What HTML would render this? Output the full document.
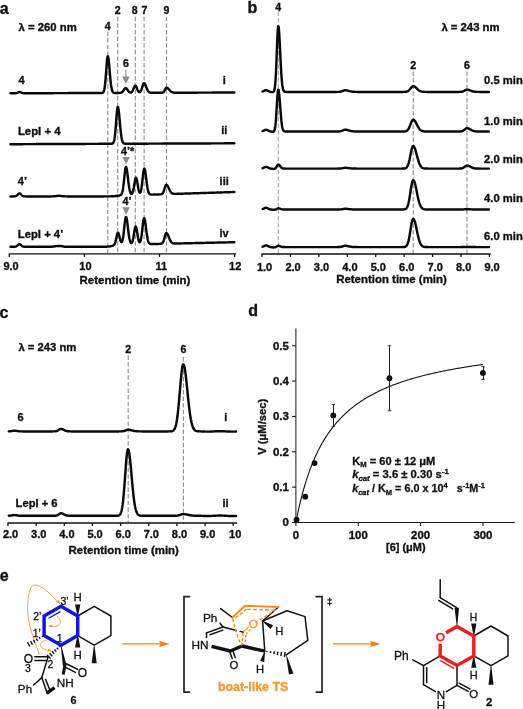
<!DOCTYPE html>
<html><head><meta charset="utf-8"><title>Figure</title>
<style>html,body{margin:0;padding:0;background:#fff}body{width:523px;height:709px;overflow:hidden}</style></head>
<body>
<svg width="523" height="709" viewBox="0 0 523 709" style="display:block;font-family:'Liberation Sans', Arial, Helvetica, sans-serif">
<rect width="523" height="709" fill="#fff"/>
<text x="-0.20" y="13.53" font-size="16" font-weight="bold" text-anchor="start" fill="#111"  stroke="#111" stroke-width="0.35">a</text>
<text x="247.40" y="12.93" font-size="16" font-weight="bold" text-anchor="start" fill="#111"  stroke="#111" stroke-width="0.35">b</text>
<text x="-0.40" y="317.63" font-size="16" font-weight="bold" text-anchor="start" fill="#111"  stroke="#111" stroke-width="0.35">c</text>
<text x="248.20" y="316.33" font-size="16" font-weight="bold" text-anchor="start" fill="#111"  stroke="#111" stroke-width="0.35">d</text>
<text x="-0.30" y="580.93" font-size="16" font-weight="bold" text-anchor="start" fill="#111"  stroke="#111" stroke-width="0.35">e</text>
<line x1="107.80" y1="31.50" x2="107.80" y2="253.90" stroke="#909090" stroke-width="1.15" stroke-dasharray="4.4 2.2"/>
<line x1="117.70" y1="16.80" x2="117.70" y2="253.90" stroke="#909090" stroke-width="1.15" stroke-dasharray="4.4 2.2"/>
<line x1="135.30" y1="16.80" x2="135.30" y2="253.90" stroke="#909090" stroke-width="1.15" stroke-dasharray="4.4 2.2"/>
<line x1="144.10" y1="16.80" x2="144.10" y2="253.90" stroke="#909090" stroke-width="1.15" stroke-dasharray="4.4 2.2"/>
<line x1="166.50" y1="16.80" x2="166.50" y2="253.90" stroke="#909090" stroke-width="1.15" stroke-dasharray="4.4 2.2"/>
<line x1="8.80" y1="253.90" x2="236.00" y2="253.90" stroke="#111" stroke-width="1.4" />
<line x1="9.30" y1="253.90" x2="9.30" y2="256.90" stroke="#111" stroke-width="1.3" />
<line x1="84.40" y1="253.90" x2="84.40" y2="256.90" stroke="#111" stroke-width="1.3" />
<line x1="159.50" y1="253.90" x2="159.50" y2="256.90" stroke="#111" stroke-width="1.3" />
<line x1="234.60" y1="253.90" x2="234.60" y2="256.90" stroke="#111" stroke-width="1.3" />
<text x="11.10" y="269.54" font-size="11.0" font-weight="bold" text-anchor="middle" fill="#111"  stroke="#111" stroke-width="0.35">9.0</text>
<text x="85.40" y="270.04" font-size="11.0" font-weight="bold" text-anchor="middle" fill="#111"  stroke="#111" stroke-width="0.35">10</text>
<text x="161.20" y="270.04" font-size="11.0" font-weight="bold" text-anchor="middle" fill="#111"  stroke="#111" stroke-width="0.35">11</text>
<text x="235.20" y="270.04" font-size="11.0" font-weight="bold" text-anchor="middle" fill="#111"  stroke="#111" stroke-width="0.35">12</text>
<text x="135.00" y="283.78" font-size="11.4" font-weight="bold" text-anchor="middle" fill="#111" textLength="110.8" lengthAdjust="spacingAndGlyphs"  stroke="#111" stroke-width="0.35">Retention time (min)</text>
<text x="117.70" y="14.29" font-size="10.6" font-weight="bold" text-anchor="middle" fill="#111"  stroke="#111" stroke-width="0.35">2</text>
<text x="134.80" y="14.29" font-size="10.6" font-weight="bold" text-anchor="middle" fill="#111"  stroke="#111" stroke-width="0.35">8</text>
<text x="144.40" y="14.29" font-size="10.6" font-weight="bold" text-anchor="middle" fill="#111"  stroke="#111" stroke-width="0.35">7</text>
<text x="166.50" y="14.29" font-size="10.6" font-weight="bold" text-anchor="middle" fill="#111"  stroke="#111" stroke-width="0.35">9</text>
<text x="107.80" y="29.59" font-size="10.6" font-weight="bold" text-anchor="middle" fill="#111"  stroke="#111" stroke-width="0.35">4</text>
<text x="125.90" y="66.99" font-size="10.6" font-weight="bold" text-anchor="middle" fill="#111"  stroke="#111" stroke-width="0.35">6</text>
<text x="127.70" y="155.27" font-size="10.8" font-weight="bold" text-anchor="middle" fill="#111"  stroke="#111" stroke-width="0.35">4’*</text>
<text x="127.00" y="204.77" font-size="10.8" font-weight="bold" text-anchor="middle" fill="#111"  stroke="#111" stroke-width="0.35">4’</text>
<line x1="125.90" y1="69.50" x2="125.90" y2="78.00" stroke="#8c8c8c" stroke-width="1.1" />
<polygon points="122.1,76.4 129.7,76.4 125.9,83.9" fill="#8c8c8c"/>
<polygon points="122.4,157.0 129.8,157.0 126.1,164.4" fill="#8c8c8c"/>
<polygon points="122.4,207.3 129.8,207.3 126.1,214.8" fill="#8c8c8c"/>
<text x="18.60" y="30.84" font-size="11" font-weight="bold" text-anchor="start" fill="#111" textLength="58.2" lengthAdjust="spacingAndGlyphs"  stroke="#111" stroke-width="0.35">λ = 260 nm</text>
<text x="18.50" y="84.24" font-size="11" font-weight="bold" text-anchor="start" fill="#111"  stroke="#111" stroke-width="0.35">4</text>
<text x="17.90" y="134.84" font-size="11" font-weight="bold" text-anchor="start" fill="#111" textLength="42.6" lengthAdjust="spacingAndGlyphs"  stroke="#111" stroke-width="0.35">LepI + 4</text>
<text x="17.80" y="185.34" font-size="11" font-weight="bold" text-anchor="start" fill="#111"  stroke="#111" stroke-width="0.35">4’</text>
<text x="17.80" y="237.54" font-size="11" font-weight="bold" text-anchor="start" fill="#111" textLength="45.5" lengthAdjust="spacingAndGlyphs"  stroke="#111" stroke-width="0.35">LepI + 4’</text>
<text x="224.40" y="83.84" font-size="11" font-weight="bold" text-anchor="middle" fill="#111"  stroke="#111" stroke-width="0.35">i</text>
<text x="224.30" y="133.84" font-size="11" font-weight="bold" text-anchor="middle" fill="#111"  stroke="#111" stroke-width="0.35">ii</text>
<text x="224.20" y="185.34" font-size="11" font-weight="bold" text-anchor="middle" fill="#111"  stroke="#111" stroke-width="0.35">iii</text>
<text x="224.10" y="237.44" font-size="11" font-weight="bold" text-anchor="middle" fill="#111"  stroke="#111" stroke-width="0.35">iv</text>
<path d="M10.50,93.30 L10.85,93.29 L11.20,93.29 L11.55,93.29 L11.90,93.29 L12.25,93.29 L12.60,93.29 L12.95,93.29 L13.30,93.29 L13.65,93.28 L14.00,93.28 L14.35,93.28 L14.70,93.27 L15.05,93.26 L15.40,93.24 L15.75,93.21 L16.10,93.17 L16.45,93.10 L16.80,93.01 L17.15,92.90 L17.50,92.76 L17.85,92.61 L18.21,92.45 L18.56,92.30 L18.91,92.17 L19.26,92.09 L19.61,92.06 L19.96,92.09 L20.31,92.17 L20.66,92.30 L21.01,92.44 L21.36,92.60 L21.71,92.75 L22.06,92.89 L22.41,93.00 L22.76,93.08 L23.11,93.14 L23.46,93.19 L23.81,93.21 L24.16,93.23 L24.51,93.24 L24.86,93.24 L25.21,93.24 L25.56,93.24 L25.91,93.24 L26.26,93.24 L26.61,93.24 L26.96,93.24 L27.31,93.24 L27.66,93.24 L28.01,93.23 L28.36,93.23 L28.71,93.23 L29.06,93.23 L29.41,93.23 L29.76,93.23 L30.11,93.23 L30.46,93.23 L30.81,93.23 L31.16,93.22 L31.51,93.22 L31.86,93.22 L32.21,93.22 L32.56,93.22 L32.92,93.22 L33.27,93.22 L33.62,93.22 L33.97,93.21 L34.32,93.21 L34.67,93.21 L35.02,93.21 L35.37,93.21 L35.72,93.21 L36.07,93.21 L36.42,93.21 L36.77,93.20 L37.12,93.20 L37.47,93.20 L37.82,93.20 L38.17,93.20 L38.52,93.20 L38.87,93.20 L39.22,93.20 L39.57,93.19 L39.92,93.19 L40.27,93.19 L40.62,93.19 L40.97,93.19 L41.32,93.19 L41.67,93.19 L42.02,93.19 L42.37,93.18 L42.72,93.18 L43.07,93.18 L43.42,93.18 L43.77,93.18 L44.12,93.18 L44.47,93.18 L44.82,93.18 L45.17,93.18 L45.52,93.17 L45.87,93.17 L46.22,93.17 L46.57,93.17 L46.92,93.17 L47.27,93.17 L47.62,93.17 L47.98,93.17 L48.33,93.16 L48.68,93.16 L49.03,93.16 L49.38,93.16 L49.73,93.16 L50.08,93.16 L50.43,93.16 L50.78,93.16 L51.13,93.15 L51.48,93.15 L51.83,93.15 L52.18,93.15 L52.53,93.15 L52.88,93.15 L53.23,93.15 L53.58,93.15 L53.93,93.14 L54.28,93.14 L54.63,93.14 L54.98,93.14 L55.33,93.14 L55.68,93.14 L56.03,93.14 L56.38,93.14 L56.73,93.14 L57.08,93.13 L57.43,93.13 L57.78,93.13 L58.13,93.13 L58.48,93.13 L58.83,93.13 L59.18,93.13 L59.53,93.13 L59.88,93.12 L60.23,93.12 L60.58,93.12 L60.93,93.12 L61.28,93.12 L61.63,93.12 L61.98,93.12 L62.33,93.12 L62.68,93.11 L63.04,93.11 L63.39,93.11 L63.74,93.11 L64.09,93.11 L64.44,93.11 L64.79,93.11 L65.14,93.11 L65.49,93.10 L65.84,93.10 L66.19,93.10 L66.54,93.10 L66.89,93.10 L67.24,93.10 L67.59,93.10 L67.94,93.10 L68.29,93.09 L68.64,93.09 L68.99,93.09 L69.34,93.09 L69.69,93.09 L70.04,93.09 L70.39,93.09 L70.74,93.09 L71.09,93.09 L71.44,93.08 L71.79,93.08 L72.14,93.08 L72.49,93.08 L72.84,93.08 L73.19,93.08 L73.54,93.08 L73.89,93.08 L74.24,93.07 L74.59,93.07 L74.94,93.07 L75.29,93.07 L75.64,93.07 L75.99,93.07 L76.34,93.07 L76.69,93.07 L77.04,93.06 L77.39,93.06 L77.75,93.06 L78.10,93.06 L78.45,93.06 L78.80,93.06 L79.15,93.06 L79.50,93.06 L79.85,93.05 L80.20,93.05 L80.55,93.05 L80.90,93.05 L81.25,93.05 L81.60,93.05 L81.95,93.05 L82.30,93.05 L82.65,93.04 L83.00,93.04 L83.35,93.04 L83.70,93.04 L84.05,93.04 L84.40,93.04 L84.75,93.04 L85.10,93.04 L85.45,93.04 L85.80,93.03 L86.15,93.03 L86.50,93.03 L86.85,93.03 L87.20,93.03 L87.55,93.03 L87.90,93.03 L88.25,93.03 L88.60,93.02 L88.95,93.02 L89.30,93.02 L89.65,93.02 L90.00,93.02 L90.35,93.02 L90.70,93.02 L91.05,93.02 L91.40,93.01 L91.75,93.01 L92.10,93.01 L92.45,93.01 L92.81,93.01 L93.16,93.01 L93.51,93.01 L93.86,93.01 L94.21,93.00 L94.56,93.00 L94.91,93.00 L95.26,93.00 L95.61,93.00 L95.96,93.00 L96.31,93.00 L96.66,93.00 L97.01,92.99 L97.36,92.99 L97.71,92.99 L98.06,92.99 L98.41,92.99 L98.76,92.99 L99.11,92.99 L99.46,92.99 L99.81,92.99 L100.16,92.98 L100.51,92.98 L100.86,92.98 L101.21,92.97 L101.56,92.96 L101.91,92.94 L102.26,92.88 L102.61,92.78 L102.96,92.59 L103.31,92.25 L103.66,91.67 L104.01,90.74 L104.36,89.31 L104.71,87.25 L105.06,84.44 L105.41,80.87 L105.76,76.59 L106.11,71.84 L106.46,66.99 L106.81,62.52 L107.16,58.95 L107.52,56.74 L107.87,56.18 L108.22,57.08 L108.57,59.21 L108.92,62.34 L109.27,66.16 L109.62,70.34 L109.97,74.55 L110.32,78.51 L110.67,82.02 L111.02,84.97 L111.37,87.33 L111.72,89.13 L112.07,90.45 L112.42,91.36 L112.77,91.98 L113.12,92.37 L113.47,92.62 L113.82,92.76 L114.17,92.84 L114.52,92.89 L114.87,92.91 L115.22,92.92 L115.57,92.93 L115.92,92.93 L116.27,92.93 L116.62,92.93 L116.97,92.93 L117.32,92.92 L117.67,92.92 L118.02,92.92 L118.37,92.92 L118.72,92.91 L119.07,92.91 L119.42,92.90 L119.77,92.88 L120.12,92.85 L120.47,92.80 L120.82,92.73 L121.17,92.63 L121.52,92.48 L121.87,92.28 L122.22,92.01 L122.58,91.66 L122.93,91.25 L123.28,90.78 L123.63,90.26 L123.98,89.72 L124.33,89.20 L124.68,88.75 L125.03,88.39 L125.38,88.17 L125.73,88.10 L126.08,88.19 L126.43,88.43 L126.78,88.80 L127.13,89.27 L127.48,89.79 L127.83,90.32 L128.18,90.84 L128.53,91.30 L128.88,91.69 L129.23,92.02 L129.58,92.26 L129.93,92.43 L130.28,92.52 L130.63,92.55 L130.98,92.49 L131.33,92.34 L131.68,92.09 L132.03,91.72 L132.38,91.21 L132.73,90.57 L133.08,89.79 L133.43,88.93 L133.78,88.03 L134.13,87.18 L134.48,86.45 L134.83,85.93 L135.18,85.68 L135.53,85.73 L135.88,86.07 L136.23,86.67 L136.58,87.44 L136.93,88.32 L137.28,89.21 L137.64,90.04 L137.99,90.75 L138.34,91.33 L138.69,91.75 L139.04,92.02 L139.39,92.13 L139.74,92.09 L140.09,91.90 L140.44,91.55 L140.79,91.02 L141.14,90.32 L141.49,89.45 L141.84,88.43 L142.19,87.32 L142.54,86.18 L142.89,85.10 L143.24,84.18 L143.59,83.52 L143.94,83.17 L144.29,83.17 L144.64,83.43 L144.99,83.92 L145.34,84.60 L145.69,85.43 L146.04,86.35 L146.39,87.30 L146.74,88.23 L147.09,89.10 L147.44,89.89 L147.79,90.57 L148.14,91.13 L148.49,91.59 L148.84,91.94 L149.19,92.21 L149.54,92.41 L149.89,92.55 L150.24,92.64 L150.59,92.70 L150.94,92.74 L151.29,92.77 L151.64,92.78 L151.99,92.79 L152.35,92.80 L152.70,92.80 L153.05,92.80 L153.40,92.80 L153.75,92.80 L154.10,92.80 L154.45,92.80 L154.80,92.79 L155.15,92.79 L155.50,92.79 L155.85,92.79 L156.20,92.79 L156.55,92.79 L156.90,92.79 L157.25,92.79 L157.60,92.78 L157.95,92.78 L158.30,92.78 L158.65,92.78 L159.00,92.78 L159.35,92.78 L159.70,92.78 L160.05,92.78 L160.40,92.77 L160.75,92.77 L161.10,92.76 L161.45,92.75 L161.80,92.73 L162.15,92.69 L162.50,92.62 L162.85,92.51 L163.20,92.32 L163.55,92.04 L163.90,91.65 L164.25,91.13 L164.60,90.51 L164.95,89.82 L165.30,89.12 L165.65,88.49 L166.00,88.02 L166.35,87.78 L166.70,87.77 L167.05,87.86 L167.41,88.02 L167.76,88.26 L168.11,88.56 L168.46,88.90 L168.81,89.27 L169.16,89.66 L169.51,90.05 L169.86,90.43 L170.21,90.79 L170.56,91.12 L170.91,91.42 L171.26,91.68 L171.61,91.90 L171.96,92.09 L172.31,92.24 L172.66,92.36 L173.01,92.46 L173.36,92.53 L173.71,92.59 L174.06,92.63 L174.41,92.66 L174.76,92.68 L175.11,92.69 L175.46,92.70 L175.81,92.71 L176.16,92.71 L176.51,92.71 L176.86,92.71 L177.21,92.71 L177.56,92.71 L177.91,92.71 L178.26,92.71 L178.61,92.71 L178.96,92.71 L179.31,92.71 L179.66,92.71 L180.01,92.71 L180.36,92.70 L180.71,92.70 L181.06,92.70 L181.41,92.70 L181.76,92.70 L182.12,92.70 L182.47,92.70 L182.82,92.70 L183.17,92.70 L183.52,92.69 L183.87,92.69 L184.22,92.69 L184.57,92.69 L184.92,92.69 L185.27,92.69 L185.62,92.69 L185.97,92.69 L186.32,92.68 L186.67,92.68 L187.02,92.68 L187.37,92.68 L187.72,92.68 L188.07,92.68 L188.42,92.68 L188.77,92.68 L189.12,92.67 L189.47,92.67 L189.82,92.67 L190.17,92.67 L190.52,92.67 L190.87,92.67 L191.22,92.67 L191.57,92.67 L191.92,92.66 L192.27,92.66 L192.62,92.66 L192.97,92.66 L193.32,92.66 L193.67,92.66 L194.02,92.66 L194.37,92.66 L194.72,92.66 L195.07,92.65 L195.42,92.65 L195.77,92.65 L196.12,92.65 L196.47,92.65 L196.82,92.65 L197.18,92.65 L197.53,92.65 L197.88,92.64 L198.23,92.64 L198.58,92.64 L198.93,92.64 L199.28,92.64 L199.63,92.64 L199.98,92.64 L200.33,92.64 L200.68,92.63 L201.03,92.63 L201.38,92.63 L201.73,92.63 L202.08,92.63 L202.43,92.63 L202.78,92.63 L203.13,92.63 L203.48,92.62 L203.83,92.62 L204.18,92.62 L204.53,92.62 L204.88,92.62 L205.23,92.62 L205.58,92.62 L205.93,92.62 L206.28,92.61 L206.63,92.61 L206.98,92.61 L207.33,92.61 L207.68,92.61 L208.03,92.61 L208.38,92.61 L208.73,92.61 L209.08,92.61 L209.43,92.60 L209.78,92.60 L210.13,92.60 L210.48,92.60 L210.83,92.60 L211.18,92.60 L211.53,92.60 L211.88,92.60 L212.24,92.59 L212.59,92.59 L212.94,92.59 L213.29,92.59 L213.64,92.59 L213.99,92.59 L214.34,92.59 L214.69,92.59 L215.04,92.58 L215.39,92.58 L215.74,92.58 L216.09,92.58 L216.44,92.58 L216.79,92.58 L217.14,92.58 L217.49,92.58 L217.84,92.57 L218.19,92.57 L218.54,92.57 L218.89,92.57 L219.24,92.57 L219.59,92.57 L219.94,92.57 L220.29,92.57 L220.64,92.56 L220.99,92.56 L221.34,92.56 L221.69,92.56 L222.04,92.56 L222.39,92.56 L222.74,92.56 L223.09,92.56 L223.44,92.56 L223.79,92.55 L224.14,92.55 L224.49,92.55 L224.84,92.55 L225.19,92.55 L225.54,92.55 L225.89,92.55 L226.24,92.55 L226.59,92.54 L226.95,92.54 L227.30,92.54 L227.65,92.54 L228.00,92.54 L228.35,92.54 L228.70,92.54 L229.05,92.54 L229.40,92.53 L229.75,92.53 L230.10,92.53 L230.45,92.53 L230.80,92.53 L231.15,92.53 L231.50,92.53 L231.85,92.53 L232.20,92.52 L232.55,92.52 L232.90,92.52 L233.25,92.52 L233.60,92.52 L233.95,92.52 L234.30,92.52" fill="none" stroke="#0a0a0a" stroke-width="2.45" stroke-linejoin="round" stroke-linecap="round"/>
<path d="M10.50,144.20 L10.85,144.19 L11.20,144.19 L11.55,144.19 L11.90,144.19 L12.25,144.19 L12.60,144.19 L12.95,144.19 L13.30,144.18 L13.65,144.18 L14.00,144.18 L14.35,144.18 L14.70,144.18 L15.05,144.18 L15.40,144.18 L15.75,144.17 L16.10,144.17 L16.45,144.17 L16.80,144.17 L17.15,144.17 L17.50,144.17 L17.85,144.17 L18.21,144.16 L18.56,144.16 L18.91,144.16 L19.26,144.16 L19.61,144.16 L19.96,144.16 L20.31,144.16 L20.66,144.15 L21.01,144.15 L21.36,144.15 L21.71,144.15 L22.06,144.15 L22.41,144.15 L22.76,144.15 L23.11,144.15 L23.46,144.14 L23.81,144.14 L24.16,144.14 L24.51,144.14 L24.86,144.14 L25.21,144.14 L25.56,144.14 L25.91,144.13 L26.26,144.13 L26.61,144.13 L26.96,144.13 L27.31,144.13 L27.66,144.13 L28.01,144.13 L28.36,144.12 L28.71,144.12 L29.06,144.12 L29.41,144.12 L29.76,144.12 L30.11,144.12 L30.46,144.12 L30.81,144.11 L31.16,144.11 L31.51,144.11 L31.86,144.11 L32.21,144.11 L32.56,144.11 L32.92,144.11 L33.27,144.10 L33.62,144.10 L33.97,144.10 L34.32,144.10 L34.67,144.10 L35.02,144.10 L35.37,144.10 L35.72,144.09 L36.07,144.09 L36.42,144.09 L36.77,144.09 L37.12,144.09 L37.47,144.09 L37.82,144.09 L38.17,144.09 L38.52,144.08 L38.87,144.08 L39.22,144.08 L39.57,144.08 L39.92,144.08 L40.27,144.08 L40.62,144.08 L40.97,144.07 L41.32,144.07 L41.67,144.07 L42.02,144.07 L42.37,144.07 L42.72,144.07 L43.07,144.07 L43.42,144.06 L43.77,144.06 L44.12,144.06 L44.47,144.06 L44.82,144.06 L45.17,144.06 L45.52,144.06 L45.87,144.05 L46.22,144.05 L46.57,144.05 L46.92,144.05 L47.27,144.05 L47.62,144.05 L47.98,144.05 L48.33,144.04 L48.68,144.04 L49.03,144.04 L49.38,144.04 L49.73,144.04 L50.08,144.04 L50.43,144.04 L50.78,144.03 L51.13,144.03 L51.48,144.03 L51.83,144.03 L52.18,144.03 L52.53,144.03 L52.88,144.03 L53.23,144.03 L53.58,144.02 L53.93,144.02 L54.28,144.02 L54.63,144.02 L54.98,144.02 L55.33,144.02 L55.68,144.02 L56.03,144.01 L56.38,144.01 L56.73,144.01 L57.08,144.01 L57.43,144.01 L57.78,144.01 L58.13,144.01 L58.48,144.00 L58.83,144.00 L59.18,144.00 L59.53,144.00 L59.88,144.00 L60.23,144.00 L60.58,144.00 L60.93,143.99 L61.28,143.99 L61.63,143.99 L61.98,143.99 L62.33,143.99 L62.68,143.99 L63.04,143.99 L63.39,143.98 L63.74,143.98 L64.09,143.98 L64.44,143.98 L64.79,143.98 L65.14,143.98 L65.49,143.98 L65.84,143.97 L66.19,143.97 L66.54,143.97 L66.89,143.97 L67.24,143.97 L67.59,143.97 L67.94,143.97 L68.29,143.97 L68.64,143.96 L68.99,143.96 L69.34,143.96 L69.69,143.96 L70.04,143.96 L70.39,143.96 L70.74,143.96 L71.09,143.95 L71.44,143.95 L71.79,143.95 L72.14,143.95 L72.49,143.95 L72.84,143.95 L73.19,143.95 L73.54,143.94 L73.89,143.94 L74.24,143.94 L74.59,143.94 L74.94,143.94 L75.29,143.94 L75.64,143.94 L75.99,143.93 L76.34,143.93 L76.69,143.93 L77.04,143.93 L77.39,143.93 L77.75,143.93 L78.10,143.93 L78.45,143.92 L78.80,143.92 L79.15,143.92 L79.50,143.92 L79.85,143.92 L80.20,143.92 L80.55,143.92 L80.90,143.91 L81.25,143.91 L81.60,143.91 L81.95,143.91 L82.30,143.91 L82.65,143.91 L83.00,143.91 L83.35,143.91 L83.70,143.90 L84.05,143.90 L84.40,143.90 L84.75,143.90 L85.10,143.90 L85.45,143.90 L85.80,143.90 L86.15,143.89 L86.50,143.89 L86.85,143.89 L87.20,143.89 L87.55,143.89 L87.90,143.89 L88.25,143.89 L88.60,143.88 L88.95,143.88 L89.30,143.88 L89.65,143.88 L90.00,143.88 L90.35,143.88 L90.70,143.88 L91.05,143.87 L91.40,143.87 L91.75,143.87 L92.10,143.87 L92.45,143.87 L92.81,143.87 L93.16,143.87 L93.51,143.86 L93.86,143.86 L94.21,143.86 L94.56,143.86 L94.91,143.86 L95.26,143.86 L95.61,143.86 L95.96,143.85 L96.31,143.85 L96.66,143.85 L97.01,143.85 L97.36,143.85 L97.71,143.85 L98.06,143.85 L98.41,143.85 L98.76,143.84 L99.11,143.84 L99.46,143.84 L99.81,143.84 L100.16,143.84 L100.51,143.84 L100.86,143.84 L101.21,143.83 L101.56,143.83 L101.91,143.83 L102.26,143.83 L102.61,143.83 L102.96,143.83 L103.31,143.83 L103.66,143.82 L104.01,143.82 L104.36,143.82 L104.71,143.82 L105.06,143.82 L105.41,143.82 L105.76,143.82 L106.11,143.81 L106.46,143.81 L106.81,143.81 L107.16,143.81 L107.52,143.81 L107.87,143.81 L108.22,143.81 L108.57,143.80 L108.92,143.80 L109.27,143.80 L109.62,143.80 L109.97,143.80 L110.32,143.80 L110.67,143.79 L111.02,143.79 L111.37,143.78 L111.72,143.75 L112.07,143.70 L112.42,143.61 L112.77,143.43 L113.12,143.13 L113.47,142.61 L113.82,141.77 L114.17,140.50 L114.52,138.67 L114.87,136.15 L115.22,132.91 L115.57,128.97 L115.92,124.49 L116.27,119.76 L116.62,115.18 L116.97,111.24 L117.32,108.39 L117.67,106.98 L118.02,107.10 L118.37,108.38 L118.72,110.66 L119.07,113.75 L119.42,117.39 L119.77,121.30 L120.12,125.22 L120.47,128.93 L120.82,132.26 L121.17,135.12 L121.52,137.46 L121.87,139.31 L122.22,140.71 L122.58,141.73 L122.93,142.45 L123.28,142.94 L123.63,143.26 L123.98,143.46 L124.33,143.58 L124.68,143.65 L125.03,143.69 L125.38,143.71 L125.73,143.72 L126.08,143.73 L126.43,143.73 L126.78,143.73 L127.13,143.73 L127.48,143.73 L127.83,143.73 L128.18,143.73 L128.53,143.73 L128.88,143.72 L129.23,143.72 L129.58,143.72 L129.93,143.72 L130.28,143.72 L130.63,143.72 L130.98,143.72 L131.33,143.71 L131.68,143.71 L132.03,143.71 L132.38,143.71 L132.73,143.71 L133.08,143.71 L133.43,143.71 L133.78,143.70 L134.13,143.70 L134.48,143.70 L134.83,143.70 L135.18,143.70 L135.53,143.70 L135.88,143.70 L136.23,143.69 L136.58,143.69 L136.93,143.69 L137.28,143.69 L137.64,143.69 L137.99,143.69 L138.34,143.69 L138.69,143.68 L139.04,143.68 L139.39,143.68 L139.74,143.68 L140.09,143.68 L140.44,143.68 L140.79,143.68 L141.14,143.67 L141.49,143.67 L141.84,143.67 L142.19,143.67 L142.54,143.67 L142.89,143.67 L143.24,143.67 L143.59,143.67 L143.94,143.66 L144.29,143.66 L144.64,143.66 L144.99,143.66 L145.34,143.66 L145.69,143.66 L146.04,143.66 L146.39,143.65 L146.74,143.65 L147.09,143.65 L147.44,143.65 L147.79,143.65 L148.14,143.65 L148.49,143.65 L148.84,143.64 L149.19,143.64 L149.54,143.64 L149.89,143.64 L150.24,143.64 L150.59,143.64 L150.94,143.64 L151.29,143.63 L151.64,143.63 L151.99,143.63 L152.35,143.63 L152.70,143.63 L153.05,143.63 L153.40,143.63 L153.75,143.62 L154.10,143.62 L154.45,143.62 L154.80,143.62 L155.15,143.62 L155.50,143.62 L155.85,143.62 L156.20,143.62 L156.55,143.61 L156.90,143.61 L157.25,143.61 L157.60,143.61 L157.95,143.61 L158.30,143.61 L158.65,143.61 L159.00,143.60 L159.35,143.60 L159.70,143.60 L160.05,143.60 L160.40,143.60 L160.75,143.60 L161.10,143.60 L161.45,143.59 L161.80,143.59 L162.15,143.59 L162.50,143.59 L162.85,143.59 L163.20,143.59 L163.55,143.59 L163.90,143.58 L164.25,143.58 L164.60,143.58 L164.95,143.58 L165.30,143.58 L165.65,143.58 L166.00,143.58 L166.35,143.57 L166.70,143.57 L167.05,143.57 L167.41,143.57 L167.76,143.57 L168.11,143.57 L168.46,143.57 L168.81,143.56 L169.16,143.56 L169.51,143.56 L169.86,143.56 L170.21,143.56 L170.56,143.56 L170.91,143.56 L171.26,143.56 L171.61,143.55 L171.96,143.55 L172.31,143.55 L172.66,143.55 L173.01,143.55 L173.36,143.55 L173.71,143.55 L174.06,143.54 L174.41,143.54 L174.76,143.54 L175.11,143.54 L175.46,143.54 L175.81,143.54 L176.16,143.54 L176.51,143.53 L176.86,143.53 L177.21,143.53 L177.56,143.53 L177.91,143.53 L178.26,143.53 L178.61,143.53 L178.96,143.52 L179.31,143.52 L179.66,143.52 L180.01,143.52 L180.36,143.52 L180.71,143.52 L181.06,143.52 L181.41,143.51 L181.76,143.51 L182.12,143.51 L182.47,143.51 L182.82,143.51 L183.17,143.51 L183.52,143.51 L183.87,143.50 L184.22,143.50 L184.57,143.50 L184.92,143.50 L185.27,143.50 L185.62,143.50 L185.97,143.50 L186.32,143.50 L186.67,143.49 L187.02,143.49 L187.37,143.49 L187.72,143.49 L188.07,143.49 L188.42,143.49 L188.77,143.49 L189.12,143.48 L189.47,143.48 L189.82,143.48 L190.17,143.48 L190.52,143.48 L190.87,143.48 L191.22,143.48 L191.57,143.47 L191.92,143.47 L192.27,143.47 L192.62,143.47 L192.97,143.47 L193.32,143.47 L193.67,143.47 L194.02,143.46 L194.37,143.46 L194.72,143.46 L195.07,143.46 L195.42,143.46 L195.77,143.46 L196.12,143.46 L196.47,143.45 L196.82,143.45 L197.18,143.45 L197.53,143.45 L197.88,143.45 L198.23,143.45 L198.58,143.45 L198.93,143.44 L199.28,143.44 L199.63,143.44 L199.98,143.44 L200.33,143.44 L200.68,143.44 L201.03,143.44 L201.38,143.44 L201.73,143.43 L202.08,143.43 L202.43,143.43 L202.78,143.43 L203.13,143.43 L203.48,143.43 L203.83,143.43 L204.18,143.42 L204.53,143.42 L204.88,143.42 L205.23,143.42 L205.58,143.42 L205.93,143.42 L206.28,143.42 L206.63,143.41 L206.98,143.41 L207.33,143.41 L207.68,143.41 L208.03,143.41 L208.38,143.41 L208.73,143.41 L209.08,143.40 L209.43,143.40 L209.78,143.40 L210.13,143.40 L210.48,143.40 L210.83,143.40 L211.18,143.40 L211.53,143.39 L211.88,143.39 L212.24,143.39 L212.59,143.39 L212.94,143.39 L213.29,143.39 L213.64,143.39 L213.99,143.38 L214.34,143.38 L214.69,143.38 L215.04,143.38 L215.39,143.38 L215.74,143.38 L216.09,143.38 L216.44,143.38 L216.79,143.37 L217.14,143.37 L217.49,143.37 L217.84,143.37 L218.19,143.37 L218.54,143.37 L218.89,143.37 L219.24,143.36 L219.59,143.36 L219.94,143.36 L220.29,143.36 L220.64,143.36 L220.99,143.36 L221.34,143.36 L221.69,143.35 L222.04,143.35 L222.39,143.35 L222.74,143.35 L223.09,143.35 L223.44,143.35 L223.79,143.35 L224.14,143.34 L224.49,143.34 L224.84,143.34 L225.19,143.34 L225.54,143.34 L225.89,143.34 L226.24,143.34 L226.59,143.33 L226.95,143.33 L227.30,143.33 L227.65,143.33 L228.00,143.33 L228.35,143.33 L228.70,143.33 L229.05,143.32 L229.40,143.32 L229.75,143.32 L230.10,143.32 L230.45,143.32 L230.80,143.32 L231.15,143.32 L231.50,143.32 L231.85,143.31 L232.20,143.31 L232.55,143.31 L232.90,143.31 L233.25,143.31 L233.60,143.31 L233.95,143.31 L234.30,143.30" fill="none" stroke="#0a0a0a" stroke-width="2.45" stroke-linejoin="round" stroke-linecap="round"/>
<path d="M10.50,196.40 L10.85,196.40 L11.20,196.40 L11.55,196.40 L11.90,196.40 L12.25,196.40 L12.60,196.40 L12.95,196.40 L13.30,196.40 L13.65,196.39 L14.00,196.38 L14.35,196.37 L14.70,196.34 L15.05,196.30 L15.40,196.24 L15.75,196.14 L16.10,195.99 L16.45,195.80 L16.80,195.55 L17.15,195.24 L17.50,194.89 L17.85,194.52 L18.21,194.16 L18.56,193.83 L18.91,193.58 L19.26,193.43 L19.61,193.41 L19.96,193.51 L20.31,193.72 L20.66,194.02 L21.01,194.37 L21.36,194.75 L21.71,195.11 L22.06,195.43 L22.41,195.71 L22.76,195.92 L23.11,196.08 L23.46,196.20 L23.81,196.28 L24.16,196.33 L24.51,196.36 L24.86,196.38 L25.21,196.39 L25.56,196.39 L25.91,196.40 L26.26,196.40 L26.61,196.40 L26.96,196.40 L27.31,196.40 L27.66,196.40 L28.01,196.40 L28.36,196.40 L28.71,196.40 L29.06,196.40 L29.41,196.40 L29.76,196.40 L30.11,196.40 L30.46,196.40 L30.81,196.40 L31.16,196.40 L31.51,196.40 L31.86,196.40 L32.21,196.40 L32.56,196.40 L32.92,196.40 L33.27,196.40 L33.62,196.40 L33.97,196.40 L34.32,196.40 L34.67,196.40 L35.02,196.40 L35.37,196.40 L35.72,196.40 L36.07,196.40 L36.42,196.40 L36.77,196.40 L37.12,196.40 L37.47,196.40 L37.82,196.40 L38.17,196.40 L38.52,196.40 L38.87,196.40 L39.22,196.40 L39.57,196.40 L39.92,196.40 L40.27,196.40 L40.62,196.40 L40.97,196.40 L41.32,196.40 L41.67,196.40 L42.02,196.40 L42.37,196.40 L42.72,196.40 L43.07,196.40 L43.42,196.40 L43.77,196.40 L44.12,196.40 L44.47,196.40 L44.82,196.40 L45.17,196.40 L45.52,196.40 L45.87,196.40 L46.22,196.40 L46.57,196.40 L46.92,196.40 L47.27,196.40 L47.62,196.40 L47.98,196.40 L48.33,196.40 L48.68,196.40 L49.03,196.40 L49.38,196.40 L49.73,196.40 L50.08,196.40 L50.43,196.40 L50.78,196.40 L51.13,196.40 L51.48,196.39 L51.83,196.39 L52.18,196.39 L52.53,196.38 L52.88,196.37 L53.23,196.36 L53.58,196.34 L53.93,196.32 L54.28,196.30 L54.63,196.27 L54.98,196.24 L55.33,196.20 L55.68,196.15 L56.03,196.10 L56.38,196.05 L56.73,196.00 L57.08,195.95 L57.43,195.91 L57.78,195.87 L58.13,195.84 L58.48,195.81 L58.83,195.80 L59.18,195.80 L59.53,195.81 L59.88,195.84 L60.23,195.87 L60.58,195.91 L60.93,195.96 L61.28,196.00 L61.63,196.06 L61.98,196.11 L62.33,196.15 L62.68,196.20 L63.04,196.24 L63.39,196.27 L63.74,196.30 L64.09,196.32 L64.44,196.34 L64.79,196.36 L65.14,196.37 L65.49,196.38 L65.84,196.39 L66.19,196.39 L66.54,196.39 L66.89,196.40 L67.24,196.40 L67.59,196.40 L67.94,196.40 L68.29,196.40 L68.64,196.40 L68.99,196.40 L69.34,196.40 L69.69,196.40 L70.04,196.40 L70.39,196.40 L70.74,196.40 L71.09,196.40 L71.44,196.40 L71.79,196.40 L72.14,196.40 L72.49,196.40 L72.84,196.40 L73.19,196.40 L73.54,196.40 L73.89,196.40 L74.24,196.40 L74.59,196.40 L74.94,196.40 L75.29,196.40 L75.64,196.40 L75.99,196.40 L76.34,196.40 L76.69,196.40 L77.04,196.40 L77.39,196.40 L77.75,196.40 L78.10,196.40 L78.45,196.40 L78.80,196.40 L79.15,196.40 L79.50,196.40 L79.85,196.40 L80.20,196.40 L80.55,196.40 L80.90,196.40 L81.25,196.40 L81.60,196.40 L81.95,196.40 L82.30,196.40 L82.65,196.40 L83.00,196.40 L83.35,196.40 L83.70,196.40 L84.05,196.40 L84.40,196.40 L84.75,196.40 L85.10,196.40 L85.45,196.40 L85.80,196.40 L86.15,196.40 L86.50,196.40 L86.85,196.40 L87.20,196.40 L87.55,196.40 L87.90,196.40 L88.25,196.40 L88.60,196.40 L88.95,196.40 L89.30,196.40 L89.65,196.40 L90.00,196.40 L90.35,196.40 L90.70,196.40 L91.05,196.40 L91.40,196.40 L91.75,196.40 L92.10,196.40 L92.45,196.40 L92.81,196.40 L93.16,196.40 L93.51,196.40 L93.86,196.40 L94.21,196.40 L94.56,196.40 L94.91,196.40 L95.26,196.40 L95.61,196.40 L95.96,196.40 L96.31,196.40 L96.66,196.40 L97.01,196.40 L97.36,196.40 L97.71,196.40 L98.06,196.40 L98.41,196.40 L98.76,196.40 L99.11,196.40 L99.46,196.40 L99.81,196.40 L100.16,196.40 L100.51,196.40 L100.86,196.40 L101.21,196.40 L101.56,196.40 L101.91,196.40 L102.26,196.40 L102.61,196.40 L102.96,196.40 L103.31,196.40 L103.66,196.40 L104.01,196.40 L104.36,196.40 L104.71,196.39 L105.06,196.39 L105.41,196.39 L105.76,196.39 L106.11,196.39 L106.46,196.39 L106.81,196.39 L107.16,196.39 L107.52,196.38 L107.87,196.38 L108.22,196.38 L108.57,196.37 L108.92,196.37 L109.27,196.37 L109.62,196.36 L109.97,196.36 L110.32,196.35 L110.67,196.34 L111.02,196.33 L111.37,196.32 L111.72,196.31 L112.07,196.30 L112.42,196.29 L112.77,196.27 L113.12,196.25 L113.47,196.23 L113.82,196.21 L114.17,196.18 L114.52,196.16 L114.87,196.13 L115.22,196.09 L115.57,196.06 L115.92,196.02 L116.27,195.97 L116.62,195.93 L116.97,195.88 L117.32,195.82 L117.67,195.77 L118.02,195.71 L118.37,195.65 L118.72,195.59 L119.07,195.53 L119.42,195.45 L119.77,195.37 L120.12,195.26 L120.47,195.12 L120.82,194.90 L121.17,194.58 L121.52,194.10 L121.87,193.38 L122.22,192.35 L122.58,190.93 L122.93,189.05 L123.28,186.69 L123.63,183.86 L123.98,180.66 L124.33,177.28 L124.68,173.97 L125.03,171.02 L125.38,168.73 L125.73,167.34 L126.08,167.02 L126.43,167.66 L126.78,169.15 L127.13,171.35 L127.48,174.06 L127.83,177.04 L128.18,180.09 L128.53,183.01 L128.88,185.65 L129.23,187.92 L129.58,189.78 L129.93,191.24 L130.28,192.33 L130.63,193.09 L130.98,193.57 L131.33,193.80 L131.68,193.80 L132.03,193.56 L132.38,193.06 L132.73,192.25 L133.08,191.11 L133.43,189.62 L133.78,187.81 L134.13,185.74 L134.48,183.56 L134.83,181.46 L135.18,179.66 L135.53,178.37 L135.88,177.74 L136.23,177.87 L136.58,178.73 L136.93,180.22 L137.28,182.14 L137.64,184.29 L137.99,186.43 L138.34,188.40 L138.69,190.07 L139.04,191.36 L139.39,192.23 L139.74,192.68 L140.09,192.70 L140.44,192.27 L140.79,191.36 L141.14,189.94 L141.49,187.99 L141.84,185.52 L142.19,182.62 L142.54,179.44 L142.89,176.21 L143.24,173.22 L143.59,170.78 L143.94,169.18 L144.29,168.60 L144.64,168.99 L144.99,170.18 L145.34,172.05 L145.69,174.43 L146.04,177.14 L146.39,179.97 L146.74,182.73 L147.09,185.28 L147.44,187.52 L147.79,189.41 L148.14,190.92 L148.49,192.08 L148.84,192.95 L149.19,193.56 L149.54,193.98 L149.89,194.26 L150.24,194.44 L150.59,194.53 L150.94,194.59 L151.29,194.62 L151.64,194.63 L151.99,194.63 L152.35,194.62 L152.70,194.61 L153.05,194.60 L153.40,194.59 L153.75,194.58 L154.10,194.57 L154.45,194.56 L154.80,194.55 L155.15,194.54 L155.50,194.53 L155.85,194.51 L156.20,194.50 L156.55,194.49 L156.90,194.48 L157.25,194.47 L157.60,194.46 L157.95,194.45 L158.30,194.44 L158.65,194.42 L159.00,194.41 L159.35,194.40 L159.70,194.39 L160.05,194.37 L160.40,194.35 L160.75,194.31 L161.10,194.26 L161.45,194.18 L161.80,194.04 L162.15,193.84 L162.50,193.53 L162.85,193.09 L163.20,192.49 L163.55,191.72 L163.90,190.78 L164.25,189.69 L164.60,188.52 L164.95,187.36 L165.30,186.30 L165.65,185.46 L166.00,184.93 L166.35,184.78 L166.70,184.89 L167.05,185.16 L167.41,185.59 L167.76,186.15 L168.11,186.81 L168.46,187.54 L168.81,188.30 L169.16,189.07 L169.51,189.82 L169.86,190.52 L170.21,191.15 L170.56,191.71 L170.91,192.20 L171.26,192.60 L171.61,192.94 L171.96,193.20 L172.31,193.41 L172.66,193.56 L173.01,193.67 L173.36,193.75 L173.71,193.81 L174.06,193.84 L174.41,193.86 L174.76,193.88 L175.11,193.88 L175.46,193.88 L175.81,193.87 L176.16,193.86 L176.51,193.85 L176.86,193.84 L177.21,193.83 L177.56,193.82 L177.91,193.81 L178.26,193.80 L178.61,193.79 L178.96,193.78 L179.31,193.77 L179.66,193.76 L180.01,193.75 L180.36,193.74 L180.71,193.72 L181.06,193.71 L181.41,193.70 L181.76,193.69 L182.12,193.68 L182.47,193.67 L182.82,193.66 L183.17,193.65 L183.52,193.64 L183.87,193.62 L184.22,193.61 L184.57,193.60 L184.92,193.59 L185.27,193.58 L185.62,193.57 L185.97,193.56 L186.32,193.55 L186.67,193.54 L187.02,193.52 L187.37,193.51 L187.72,193.50 L188.07,193.49 L188.42,193.48 L188.77,193.47 L189.12,193.46 L189.47,193.45 L189.82,193.44 L190.17,193.42 L190.52,193.41 L190.87,193.40 L191.22,193.39 L191.57,193.38 L191.92,193.37 L192.27,193.36 L192.62,193.35 L192.97,193.33 L193.32,193.32 L193.67,193.31 L194.02,193.30 L194.37,193.29 L194.72,193.28 L195.07,193.27 L195.42,193.26 L195.77,193.25 L196.12,193.23 L196.47,193.22 L196.82,193.21 L197.18,193.20 L197.53,193.19 L197.88,193.18 L198.23,193.17 L198.58,193.16 L198.93,193.15 L199.28,193.13 L199.63,193.12 L199.98,193.11 L200.33,193.10 L200.68,193.09 L201.03,193.08 L201.38,193.07 L201.73,193.06 L202.08,193.05 L202.43,193.03 L202.78,193.02 L203.13,193.01 L203.48,193.00 L203.83,192.99 L204.18,192.98 L204.53,192.97 L204.88,192.96 L205.23,192.95 L205.58,192.93 L205.93,192.92 L206.28,192.91 L206.63,192.90 L206.98,192.89 L207.33,192.88 L207.68,192.87 L208.03,192.86 L208.38,192.85 L208.73,192.83 L209.08,192.82 L209.43,192.81 L209.78,192.80 L210.13,192.79 L210.48,192.78 L210.83,192.77 L211.18,192.76 L211.53,192.75 L211.88,192.73 L212.24,192.72 L212.59,192.71 L212.94,192.70 L213.29,192.69 L213.64,192.68 L213.99,192.67 L214.34,192.66 L214.69,192.65 L215.04,192.63 L215.39,192.62 L215.74,192.61 L216.09,192.60 L216.44,192.59 L216.79,192.58 L217.14,192.57 L217.49,192.56 L217.84,192.55 L218.19,192.53 L218.54,192.52 L218.89,192.51 L219.24,192.50 L219.59,192.49 L219.94,192.48 L220.29,192.47 L220.64,192.46 L220.99,192.44 L221.34,192.43 L221.69,192.42 L222.04,192.41 L222.39,192.40 L222.74,192.39 L223.09,192.38 L223.44,192.37 L223.79,192.36 L224.14,192.34 L224.49,192.33 L224.84,192.32 L225.19,192.31 L225.54,192.30 L225.89,192.29 L226.24,192.28 L226.59,192.27 L226.95,192.26 L227.30,192.24 L227.65,192.23 L228.00,192.22 L228.35,192.21 L228.70,192.20 L229.05,192.19 L229.40,192.18 L229.75,192.17 L230.10,192.16 L230.45,192.14 L230.80,192.13 L231.15,192.12 L231.50,192.11 L231.85,192.10 L232.20,192.09 L232.55,192.08 L232.90,192.07 L233.25,192.06 L233.60,192.04 L233.95,192.03 L234.30,192.02" fill="none" stroke="#0a0a0a" stroke-width="2.45" stroke-linejoin="round" stroke-linecap="round"/>
<path d="M10.50,246.80 L10.85,246.80 L11.20,246.80 L11.55,246.80 L11.90,246.80 L12.25,246.80 L12.60,246.80 L12.95,246.80 L13.30,246.80 L13.65,246.79 L14.00,246.79 L14.35,246.77 L14.70,246.75 L15.05,246.72 L15.40,246.66 L15.75,246.57 L16.10,246.45 L16.45,246.28 L16.80,246.06 L17.15,245.80 L17.50,245.49 L17.85,245.17 L18.21,244.85 L18.56,244.57 L18.91,244.35 L19.26,244.23 L19.61,244.21 L19.96,244.29 L20.31,244.48 L20.66,244.74 L21.01,245.04 L21.36,245.37 L21.71,245.68 L22.06,245.96 L22.41,246.20 L22.76,246.39 L23.11,246.53 L23.46,246.63 L23.81,246.70 L24.16,246.74 L24.51,246.77 L24.86,246.78 L25.21,246.79 L25.56,246.80 L25.91,246.80 L26.26,246.80 L26.61,246.80 L26.96,246.80 L27.31,246.80 L27.66,246.80 L28.01,246.80 L28.36,246.80 L28.71,246.80 L29.06,246.80 L29.41,246.80 L29.76,246.80 L30.11,246.80 L30.46,246.80 L30.81,246.80 L31.16,246.80 L31.51,246.80 L31.86,246.80 L32.21,246.80 L32.56,246.80 L32.92,246.80 L33.27,246.80 L33.62,246.80 L33.97,246.80 L34.32,246.80 L34.67,246.80 L35.02,246.80 L35.37,246.80 L35.72,246.80 L36.07,246.80 L36.42,246.80 L36.77,246.80 L37.12,246.80 L37.47,246.80 L37.82,246.80 L38.17,246.80 L38.52,246.80 L38.87,246.80 L39.22,246.80 L39.57,246.80 L39.92,246.80 L40.27,246.80 L40.62,246.80 L40.97,246.80 L41.32,246.80 L41.67,246.80 L42.02,246.80 L42.37,246.80 L42.72,246.80 L43.07,246.80 L43.42,246.80 L43.77,246.80 L44.12,246.80 L44.47,246.80 L44.82,246.80 L45.17,246.80 L45.52,246.80 L45.87,246.80 L46.22,246.80 L46.57,246.80 L46.92,246.80 L47.27,246.80 L47.62,246.80 L47.98,246.80 L48.33,246.80 L48.68,246.80 L49.03,246.80 L49.38,246.80 L49.73,246.80 L50.08,246.79 L50.43,246.79 L50.78,246.78 L51.13,246.77 L51.48,246.75 L51.83,246.73 L52.18,246.70 L52.53,246.67 L52.88,246.62 L53.23,246.57 L53.58,246.51 L53.93,246.45 L54.28,246.38 L54.63,246.31 L54.98,246.26 L55.33,246.20 L55.68,246.16 L56.03,246.13 L56.38,246.11 L56.73,246.10 L57.08,246.10 L57.43,246.09 L57.78,246.08 L58.13,246.06 L58.48,246.04 L58.83,246.01 L59.18,245.99 L59.53,245.96 L59.88,245.95 L60.23,245.94 L60.58,245.96 L60.93,245.99 L61.28,246.04 L61.63,246.11 L61.98,246.19 L62.33,246.27 L62.68,246.36 L63.04,246.44 L63.39,246.52 L63.74,246.58 L64.09,246.64 L64.44,246.68 L64.79,246.72 L65.14,246.75 L65.49,246.76 L65.84,246.78 L66.19,246.79 L66.54,246.79 L66.89,246.80 L67.24,246.80 L67.59,246.80 L67.94,246.80 L68.29,246.80 L68.64,246.80 L68.99,246.80 L69.34,246.80 L69.69,246.80 L70.04,246.80 L70.39,246.80 L70.74,246.80 L71.09,246.80 L71.44,246.80 L71.79,246.80 L72.14,246.80 L72.49,246.80 L72.84,246.80 L73.19,246.80 L73.54,246.80 L73.89,246.80 L74.24,246.80 L74.59,246.80 L74.94,246.80 L75.29,246.80 L75.64,246.80 L75.99,246.80 L76.34,246.80 L76.69,246.80 L77.04,246.80 L77.39,246.80 L77.75,246.80 L78.10,246.80 L78.45,246.80 L78.80,246.80 L79.15,246.80 L79.50,246.80 L79.85,246.80 L80.20,246.80 L80.55,246.80 L80.90,246.80 L81.25,246.80 L81.60,246.80 L81.95,246.80 L82.30,246.80 L82.65,246.80 L83.00,246.80 L83.35,246.80 L83.70,246.80 L84.05,246.80 L84.40,246.80 L84.75,246.80 L85.10,246.80 L85.45,246.80 L85.80,246.80 L86.15,246.80 L86.50,246.80 L86.85,246.80 L87.20,246.80 L87.55,246.80 L87.90,246.80 L88.25,246.80 L88.60,246.80 L88.95,246.80 L89.30,246.80 L89.65,246.80 L90.00,246.80 L90.35,246.80 L90.70,246.80 L91.05,246.80 L91.40,246.80 L91.75,246.80 L92.10,246.80 L92.45,246.80 L92.81,246.80 L93.16,246.80 L93.51,246.80 L93.86,246.80 L94.21,246.80 L94.56,246.80 L94.91,246.80 L95.26,246.80 L95.61,246.80 L95.96,246.80 L96.31,246.80 L96.66,246.80 L97.01,246.80 L97.36,246.80 L97.71,246.80 L98.06,246.80 L98.41,246.79 L98.76,246.79 L99.11,246.79 L99.46,246.79 L99.81,246.79 L100.16,246.79 L100.51,246.79 L100.86,246.79 L101.21,246.78 L101.56,246.78 L101.91,246.78 L102.26,246.78 L102.61,246.77 L102.96,246.77 L103.31,246.76 L103.66,246.76 L104.01,246.75 L104.36,246.74 L104.71,246.74 L105.06,246.73 L105.41,246.72 L105.76,246.70 L106.11,246.69 L106.46,246.67 L106.81,246.66 L107.16,246.64 L107.52,246.61 L107.87,246.59 L108.22,246.56 L108.57,246.52 L108.92,246.49 L109.27,246.45 L109.62,246.40 L109.97,246.35 L110.32,246.30 L110.67,246.24 L111.02,246.17 L111.37,246.10 L111.72,246.02 L112.07,245.93 L112.42,245.84 L112.77,245.72 L113.12,245.57 L113.47,245.38 L113.82,245.11 L114.17,244.73 L114.52,244.20 L114.87,243.48 L115.22,242.52 L115.57,241.31 L115.92,239.88 L116.27,238.30 L116.62,236.66 L116.97,235.13 L117.32,233.88 L117.67,233.05 L118.02,232.75 L118.37,233.01 L118.72,233.79 L119.07,234.98 L119.42,236.41 L119.77,237.91 L120.12,239.33 L120.47,240.53 L120.82,241.44 L121.17,241.99 L121.52,242.15 L121.87,241.89 L122.22,241.18 L122.58,239.98 L122.93,238.26 L123.28,236.02 L123.63,233.30 L123.98,230.20 L124.33,226.92 L124.68,223.70 L125.03,220.83 L125.38,218.60 L125.73,217.25 L126.08,216.94 L126.43,217.58 L126.78,219.05 L127.13,221.21 L127.48,223.86 L127.83,226.79 L128.18,229.77 L128.53,232.63 L128.88,235.22 L129.23,237.44 L129.58,239.26 L129.93,240.68 L130.28,241.73 L130.63,242.44 L130.98,242.85 L131.33,242.99 L131.68,242.85 L132.03,242.41 L132.38,241.66 L132.73,240.55 L133.08,239.07 L133.43,237.24 L133.78,235.13 L134.13,232.89 L134.48,230.69 L134.83,228.77 L135.18,227.34 L135.53,226.59 L135.88,226.61 L136.23,227.40 L136.58,228.85 L136.93,230.79 L137.28,233.00 L137.64,235.23 L137.99,237.32 L138.34,239.10 L138.69,240.51 L139.04,241.51 L139.39,242.09 L139.74,242.26 L140.09,241.99 L140.44,241.27 L140.79,240.07 L141.14,238.35 L141.49,236.11 L141.84,233.40 L142.19,230.33 L142.54,227.11 L142.89,224.00 L143.24,221.32 L143.59,219.34 L143.94,218.32 L144.29,218.32 L144.64,219.17 L144.99,220.75 L145.34,222.92 L145.69,225.50 L146.04,228.28 L146.39,231.07 L146.74,233.70 L147.09,236.07 L147.44,238.09 L147.79,239.75 L148.14,241.05 L148.49,242.02 L148.84,242.73 L149.19,243.23 L149.54,243.56 L149.89,243.78 L150.24,243.91 L150.59,243.98 L150.94,244.02 L151.29,244.04 L151.64,244.05 L151.99,244.05 L152.35,244.04 L152.70,244.04 L153.05,244.03 L153.40,244.02 L153.75,244.02 L154.10,244.01 L154.45,244.00 L154.80,243.99 L155.15,243.98 L155.50,243.98 L155.85,243.97 L156.20,243.96 L156.55,243.95 L156.90,243.95 L157.25,243.94 L157.60,243.93 L157.95,243.92 L158.30,243.91 L158.65,243.91 L159.00,243.90 L159.35,243.89 L159.70,243.88 L160.05,243.86 L160.40,243.84 L160.75,243.81 L161.10,243.75 L161.45,243.66 L161.80,243.51 L162.15,243.28 L162.50,242.94 L162.85,242.44 L163.20,241.77 L163.55,240.90 L163.90,239.83 L164.25,238.60 L164.60,237.27 L164.95,235.95 L165.30,234.75 L165.65,233.80 L166.00,233.20 L166.35,233.04 L166.70,233.16 L167.05,233.48 L167.41,233.97 L167.76,234.61 L168.11,235.37 L168.46,236.20 L168.81,237.08 L169.16,237.96 L169.51,238.81 L169.86,239.61 L170.21,240.34 L170.56,240.99 L170.91,241.54 L171.26,242.01 L171.61,242.39 L171.96,242.70 L172.31,242.93 L172.66,243.12 L173.01,243.25 L173.36,243.35 L173.71,243.41 L174.06,243.46 L174.41,243.49 L174.76,243.50 L175.11,243.51 L175.46,243.51 L175.81,243.51 L176.16,243.51 L176.51,243.50 L176.86,243.50 L177.21,243.49 L177.56,243.48 L177.91,243.48 L178.26,243.47 L178.61,243.46 L178.96,243.45 L179.31,243.44 L179.66,243.44 L180.01,243.43 L180.36,243.42 L180.71,243.41 L181.06,243.41 L181.41,243.40 L181.76,243.39 L182.12,243.38 L182.47,243.37 L182.82,243.37 L183.17,243.36 L183.52,243.35 L183.87,243.34 L184.22,243.34 L184.57,243.33 L184.92,243.32 L185.27,243.31 L185.62,243.30 L185.97,243.30 L186.32,243.29 L186.67,243.28 L187.02,243.27 L187.37,243.26 L187.72,243.26 L188.07,243.25 L188.42,243.24 L188.77,243.23 L189.12,243.23 L189.47,243.22 L189.82,243.21 L190.17,243.20 L190.52,243.19 L190.87,243.19 L191.22,243.18 L191.57,243.17 L191.92,243.16 L192.27,243.16 L192.62,243.15 L192.97,243.14 L193.32,243.13 L193.67,243.12 L194.02,243.12 L194.37,243.11 L194.72,243.10 L195.07,243.09 L195.42,243.08 L195.77,243.08 L196.12,243.07 L196.47,243.06 L196.82,243.05 L197.18,243.05 L197.53,243.04 L197.88,243.03 L198.23,243.02 L198.58,243.01 L198.93,243.01 L199.28,243.00 L199.63,242.99 L199.98,242.98 L200.33,242.98 L200.68,242.97 L201.03,242.96 L201.38,242.95 L201.73,242.94 L202.08,242.94 L202.43,242.93 L202.78,242.92 L203.13,242.91 L203.48,242.90 L203.83,242.90 L204.18,242.89 L204.53,242.88 L204.88,242.87 L205.23,242.87 L205.58,242.86 L205.93,242.85 L206.28,242.84 L206.63,242.83 L206.98,242.83 L207.33,242.82 L207.68,242.81 L208.03,242.80 L208.38,242.79 L208.73,242.79 L209.08,242.78 L209.43,242.77 L209.78,242.76 L210.13,242.76 L210.48,242.75 L210.83,242.74 L211.18,242.73 L211.53,242.72 L211.88,242.72 L212.24,242.71 L212.59,242.70 L212.94,242.69 L213.29,242.69 L213.64,242.68 L213.99,242.67 L214.34,242.66 L214.69,242.65 L215.04,242.65 L215.39,242.64 L215.74,242.63 L216.09,242.62 L216.44,242.61 L216.79,242.61 L217.14,242.60 L217.49,242.59 L217.84,242.58 L218.19,242.58 L218.54,242.57 L218.89,242.56 L219.24,242.55 L219.59,242.54 L219.94,242.54 L220.29,242.53 L220.64,242.52 L220.99,242.51 L221.34,242.51 L221.69,242.50 L222.04,242.49 L222.39,242.48 L222.74,242.47 L223.09,242.47 L223.44,242.46 L223.79,242.45 L224.14,242.44 L224.49,242.43 L224.84,242.43 L225.19,242.42 L225.54,242.41 L225.89,242.40 L226.24,242.40 L226.59,242.39 L226.95,242.38 L227.30,242.37 L227.65,242.36 L228.00,242.36 L228.35,242.35 L228.70,242.34 L229.05,242.33 L229.40,242.33 L229.75,242.32 L230.10,242.31 L230.45,242.30 L230.80,242.29 L231.15,242.29 L231.50,242.28 L231.85,242.27 L232.20,242.26 L232.55,242.25 L232.90,242.25 L233.25,242.24 L233.60,242.23 L233.95,242.22 L234.30,242.22" fill="none" stroke="#0a0a0a" stroke-width="2.45" stroke-linejoin="round" stroke-linecap="round"/>
<line x1="278.30" y1="11.50" x2="278.30" y2="254.00" stroke="#909090" stroke-width="0.9" stroke-dasharray="4.4 2.2"/>
<line x1="413.20" y1="71.60" x2="413.20" y2="254.00" stroke="#909090" stroke-width="1.15" stroke-dasharray="4.4 2.2"/>
<line x1="467.00" y1="71.60" x2="467.00" y2="254.00" stroke="#909090" stroke-width="1.15" stroke-dasharray="4.4 2.2"/>
<line x1="261.50" y1="254.00" x2="490.64" y2="254.00" stroke="#111" stroke-width="1.4" />
<line x1="262.00" y1="254.00" x2="262.00" y2="257.00" stroke="#111" stroke-width="1.3" />
<text x="264.60" y="271.04" font-size="11.0" font-weight="bold" text-anchor="middle" fill="#111"  stroke="#111" stroke-width="0.35">1.0</text>
<line x1="290.43" y1="254.00" x2="290.43" y2="257.00" stroke="#111" stroke-width="1.3" />
<text x="293.03" y="271.04" font-size="11.0" font-weight="bold" text-anchor="middle" fill="#111"  stroke="#111" stroke-width="0.35">2.0</text>
<line x1="318.86" y1="254.00" x2="318.86" y2="257.00" stroke="#111" stroke-width="1.3" />
<text x="321.46" y="271.04" font-size="11.0" font-weight="bold" text-anchor="middle" fill="#111"  stroke="#111" stroke-width="0.35">3.0</text>
<line x1="347.29" y1="254.00" x2="347.29" y2="257.00" stroke="#111" stroke-width="1.3" />
<text x="349.89" y="271.04" font-size="11.0" font-weight="bold" text-anchor="middle" fill="#111"  stroke="#111" stroke-width="0.35">4.0</text>
<line x1="375.72" y1="254.00" x2="375.72" y2="257.00" stroke="#111" stroke-width="1.3" />
<text x="378.32" y="271.04" font-size="11.0" font-weight="bold" text-anchor="middle" fill="#111"  stroke="#111" stroke-width="0.35">5.0</text>
<line x1="404.15" y1="254.00" x2="404.15" y2="257.00" stroke="#111" stroke-width="1.3" />
<text x="406.75" y="271.04" font-size="11.0" font-weight="bold" text-anchor="middle" fill="#111"  stroke="#111" stroke-width="0.35">6.0</text>
<line x1="432.58" y1="254.00" x2="432.58" y2="257.00" stroke="#111" stroke-width="1.3" />
<text x="435.18" y="271.04" font-size="11.0" font-weight="bold" text-anchor="middle" fill="#111"  stroke="#111" stroke-width="0.35">7.0</text>
<line x1="461.01" y1="254.00" x2="461.01" y2="257.00" stroke="#111" stroke-width="1.3" />
<text x="463.61" y="271.04" font-size="11.0" font-weight="bold" text-anchor="middle" fill="#111"  stroke="#111" stroke-width="0.35">8.0</text>
<line x1="489.44" y1="254.00" x2="489.44" y2="257.00" stroke="#111" stroke-width="1.3" />
<text x="492.04" y="271.04" font-size="11.0" font-weight="bold" text-anchor="middle" fill="#111"  stroke="#111" stroke-width="0.35">9.0</text>
<text x="391.50" y="283.08" font-size="11.4" font-weight="bold" text-anchor="middle" fill="#111" textLength="110.6" lengthAdjust="spacingAndGlyphs"  stroke="#111" stroke-width="0.35">Retention time (min)</text>
<text x="278.30" y="11.09" font-size="10.6" font-weight="bold" text-anchor="middle" fill="#111"  stroke="#111" stroke-width="0.35">4</text>
<text x="413.20" y="69.39" font-size="10.6" font-weight="bold" text-anchor="middle" fill="#111"  stroke="#111" stroke-width="0.35">2</text>
<text x="467.00" y="69.39" font-size="10.6" font-weight="bold" text-anchor="middle" fill="#111"  stroke="#111" stroke-width="0.35">6</text>
<text x="441.40" y="30.54" font-size="11" font-weight="bold" text-anchor="start" fill="#111" textLength="58.2" lengthAdjust="spacingAndGlyphs"  stroke="#111" stroke-width="0.35">λ = 243 nm</text>
<text x="484.10" y="83.97" font-size="11.1" font-weight="bold" text-anchor="start" fill="#111" textLength="38.7" lengthAdjust="spacingAndGlyphs"  stroke="#111" stroke-width="0.35">0.5 min</text>
<text x="484.10" y="125.17" font-size="11.1" font-weight="bold" text-anchor="start" fill="#111" textLength="38.7" lengthAdjust="spacingAndGlyphs"  stroke="#111" stroke-width="0.35">1.0 min</text>
<text x="484.10" y="162.87" font-size="11.1" font-weight="bold" text-anchor="start" fill="#111" textLength="38.7" lengthAdjust="spacingAndGlyphs"  stroke="#111" stroke-width="0.35">2.0 min</text>
<text x="484.10" y="202.27" font-size="11.1" font-weight="bold" text-anchor="start" fill="#111" textLength="38.7" lengthAdjust="spacingAndGlyphs"  stroke="#111" stroke-width="0.35">4.0 min</text>
<text x="484.10" y="240.17" font-size="11.1" font-weight="bold" text-anchor="start" fill="#111" textLength="38.7" lengthAdjust="spacingAndGlyphs"  stroke="#111" stroke-width="0.35">6.0 min</text>
<path d="M262.60,91.50 L262.95,91.37 L263.31,91.21 L263.66,91.04 L264.02,90.86 L264.37,90.68 L264.72,90.51 L265.08,90.37 L265.43,90.27 L265.79,90.21 L266.14,90.20 L266.49,90.25 L266.85,90.35 L267.20,90.48 L267.56,90.65 L267.91,90.83 L268.26,91.01 L268.62,91.19 L268.97,91.36 L269.33,91.50 L269.68,91.63 L270.03,91.74 L270.39,91.83 L270.74,91.91 L271.10,91.97 L271.45,92.03 L271.80,92.08 L272.16,92.12 L272.51,92.14 L272.87,92.12 L273.22,92.02 L273.57,91.79 L273.93,91.31 L274.28,90.41 L274.64,88.88 L274.99,86.41 L275.34,82.70 L275.70,77.47 L276.05,70.62 L276.41,62.32 L276.76,53.06 L277.11,43.72 L277.47,35.38 L277.82,29.22 L278.18,26.16 L278.53,26.41 L278.88,29.03 L279.24,33.66 L279.59,39.84 L279.95,47.00 L280.30,54.53 L280.65,61.88 L281.01,68.63 L281.36,74.50 L281.72,79.34 L282.07,83.15 L282.42,86.02 L282.78,88.09 L283.13,89.51 L283.49,90.46 L283.84,91.06 L284.19,91.43 L284.55,91.64 L284.90,91.77 L285.26,91.83 L285.61,91.87 L285.96,91.88 L286.32,91.89 L286.67,91.90 L287.03,91.90 L287.38,91.90 L287.73,91.90 L288.09,91.90 L288.44,91.90 L288.80,91.90 L289.15,91.90 L289.50,91.90 L289.86,91.90 L290.21,91.90 L290.57,91.90 L290.92,91.90 L291.27,91.90 L291.63,91.90 L291.98,91.90 L292.34,91.90 L292.69,91.90 L293.04,91.90 L293.40,91.90 L293.75,91.90 L294.11,91.90 L294.46,91.90 L294.81,91.90 L295.17,91.90 L295.52,91.90 L295.88,91.90 L296.23,91.90 L296.58,91.90 L296.94,91.90 L297.29,91.90 L297.65,91.90 L298.00,91.90 L298.35,91.90 L298.71,91.90 L299.06,91.90 L299.42,91.90 L299.77,91.90 L300.12,91.90 L300.48,91.90 L300.83,91.90 L301.18,91.90 L301.54,91.90 L301.89,91.90 L302.25,91.90 L302.60,91.90 L302.95,91.90 L303.31,91.90 L303.66,91.90 L304.02,91.90 L304.37,91.90 L304.72,91.90 L305.08,91.90 L305.43,91.90 L305.79,91.90 L306.14,91.90 L306.49,91.90 L306.85,91.90 L307.20,91.90 L307.56,91.90 L307.91,91.90 L308.26,91.90 L308.62,91.90 L308.97,91.90 L309.33,91.90 L309.68,91.90 L310.03,91.90 L310.39,91.90 L310.74,91.90 L311.10,91.90 L311.45,91.90 L311.80,91.90 L312.16,91.90 L312.51,91.90 L312.87,91.90 L313.22,91.90 L313.57,91.90 L313.93,91.90 L314.28,91.90 L314.64,91.90 L314.99,91.90 L315.34,91.90 L315.70,91.90 L316.05,91.90 L316.41,91.90 L316.76,91.90 L317.11,91.90 L317.47,91.90 L317.82,91.90 L318.18,91.90 L318.53,91.90 L318.88,91.90 L319.24,91.90 L319.59,91.90 L319.95,91.90 L320.30,91.90 L320.65,91.90 L321.01,91.90 L321.36,91.90 L321.72,91.90 L322.07,91.90 L322.42,91.90 L322.78,91.90 L323.13,91.90 L323.49,91.90 L323.84,91.90 L324.19,91.90 L324.55,91.90 L324.90,91.90 L325.26,91.90 L325.61,91.90 L325.96,91.90 L326.32,91.90 L326.67,91.90 L327.03,91.90 L327.38,91.90 L327.73,91.90 L328.09,91.90 L328.44,91.90 L328.80,91.90 L329.15,91.90 L329.50,91.90 L329.86,91.90 L330.21,91.90 L330.57,91.90 L330.92,91.90 L331.27,91.90 L331.63,91.90 L331.98,91.90 L332.34,91.90 L332.69,91.90 L333.04,91.90 L333.40,91.90 L333.75,91.90 L334.11,91.90 L334.46,91.90 L334.81,91.90 L335.17,91.90 L335.52,91.90 L335.88,91.90 L336.23,91.90 L336.58,91.90 L336.94,91.90 L337.29,91.89 L337.65,91.89 L338.00,91.88 L338.35,91.87 L338.71,91.86 L339.06,91.84 L339.42,91.81 L339.77,91.78 L340.12,91.73 L340.48,91.67 L340.83,91.59 L341.19,91.50 L341.54,91.40 L341.89,91.28 L342.25,91.15 L342.60,91.01 L342.96,90.87 L343.31,90.73 L343.66,90.60 L344.02,90.48 L344.37,90.39 L344.73,90.33 L345.08,90.30 L345.43,90.30 L345.79,90.32 L346.14,90.35 L346.50,90.40 L346.85,90.46 L347.20,90.53 L347.56,90.61 L347.91,90.70 L348.27,90.79 L348.62,90.88 L348.97,90.98 L349.33,91.07 L349.68,91.16 L350.04,91.25 L350.39,91.33 L350.74,91.41 L351.10,91.48 L351.45,91.55 L351.81,91.60 L352.16,91.65 L352.51,91.70 L352.87,91.73 L353.22,91.77 L353.58,91.79 L353.93,91.82 L354.28,91.83 L354.64,91.85 L354.99,91.86 L355.35,91.87 L355.70,91.88 L356.05,91.88 L356.41,91.89 L356.76,91.89 L357.12,91.89 L357.47,91.90 L357.82,91.90 L358.18,91.90 L358.53,91.90 L358.89,91.90 L359.24,91.90 L359.59,91.90 L359.95,91.90 L360.30,91.90 L360.66,91.90 L361.01,91.90 L361.36,91.90 L361.72,91.90 L362.07,91.90 L362.43,91.90 L362.78,91.90 L363.13,91.90 L363.49,91.90 L363.84,91.90 L364.20,91.90 L364.55,91.90 L364.90,91.90 L365.26,91.90 L365.61,91.90 L365.97,91.90 L366.32,91.90 L366.67,91.90 L367.03,91.90 L367.38,91.90 L367.74,91.90 L368.09,91.90 L368.44,91.90 L368.80,91.90 L369.15,91.90 L369.51,91.90 L369.86,91.90 L370.21,91.90 L370.57,91.90 L370.92,91.90 L371.28,91.90 L371.63,91.90 L371.98,91.90 L372.34,91.90 L372.69,91.90 L373.05,91.90 L373.40,91.90 L373.75,91.90 L374.11,91.90 L374.46,91.90 L374.82,91.90 L375.17,91.90 L375.52,91.90 L375.88,91.90 L376.23,91.90 L376.58,91.90 L376.94,91.90 L377.29,91.90 L377.65,91.90 L378.00,91.90 L378.35,91.90 L378.71,91.90 L379.06,91.90 L379.42,91.90 L379.77,91.90 L380.12,91.90 L380.48,91.90 L380.83,91.90 L381.19,91.90 L381.54,91.90 L381.89,91.90 L382.25,91.90 L382.60,91.90 L382.96,91.90 L383.31,91.90 L383.66,91.90 L384.02,91.90 L384.37,91.90 L384.73,91.90 L385.08,91.90 L385.43,91.90 L385.79,91.90 L386.14,91.90 L386.50,91.90 L386.85,91.90 L387.20,91.90 L387.56,91.90 L387.91,91.90 L388.27,91.90 L388.62,91.90 L388.97,91.90 L389.33,91.90 L389.68,91.90 L390.04,91.90 L390.39,91.90 L390.74,91.90 L391.10,91.90 L391.45,91.90 L391.81,91.90 L392.16,91.90 L392.51,91.90 L392.87,91.90 L393.22,91.90 L393.58,91.90 L393.93,91.90 L394.28,91.90 L394.64,91.90 L394.99,91.90 L395.35,91.90 L395.70,91.90 L396.05,91.90 L396.41,91.90 L396.76,91.90 L397.12,91.90 L397.47,91.90 L397.82,91.90 L398.18,91.90 L398.53,91.90 L398.89,91.90 L399.24,91.90 L399.59,91.90 L399.95,91.90 L400.30,91.90 L400.66,91.90 L401.01,91.90 L401.36,91.90 L401.72,91.90 L402.07,91.90 L402.43,91.90 L402.78,91.90 L403.13,91.89 L403.49,91.89 L403.84,91.89 L404.20,91.88 L404.55,91.87 L404.90,91.85 L405.26,91.82 L405.61,91.79 L405.97,91.74 L406.32,91.68 L406.67,91.59 L407.03,91.48 L407.38,91.34 L407.74,91.16 L408.09,90.95 L408.44,90.69 L408.80,90.39 L409.15,90.05 L409.51,89.66 L409.86,89.25 L410.21,88.81 L410.57,88.36 L410.92,87.91 L411.28,87.48 L411.63,87.09 L411.98,86.75 L412.34,86.48 L412.69,86.30 L413.05,86.21 L413.40,86.21 L413.75,86.27 L414.11,86.38 L414.46,86.55 L414.82,86.76 L415.17,87.01 L415.52,87.29 L415.88,87.60 L416.23,87.93 L416.59,88.27 L416.94,88.61 L417.29,88.95 L417.65,89.28 L418.00,89.60 L418.36,89.90 L418.71,90.17 L419.06,90.43 L419.42,90.66 L419.77,90.86 L420.13,91.04 L420.48,91.19 L420.83,91.33 L421.19,91.44 L421.54,91.53 L421.90,91.61 L422.25,91.67 L422.60,91.72 L422.96,91.77 L423.31,91.80 L423.67,91.82 L424.02,91.84 L424.37,91.86 L424.73,91.87 L425.08,91.88 L425.44,91.88 L425.79,91.89 L426.14,91.89 L426.50,91.89 L426.85,91.90 L427.21,91.90 L427.56,91.90 L427.91,91.90 L428.27,91.90 L428.62,91.90 L428.98,91.90 L429.33,91.90 L429.68,91.90 L430.04,91.90 L430.39,91.90 L430.75,91.90 L431.10,91.90 L431.45,91.90 L431.81,91.90 L432.16,91.90 L432.52,91.90 L432.87,91.90 L433.22,91.90 L433.58,91.90 L433.93,91.90 L434.29,91.90 L434.64,91.90 L434.99,91.90 L435.35,91.90 L435.70,91.90 L436.06,91.90 L436.41,91.90 L436.76,91.90 L437.12,91.90 L437.47,91.90 L437.83,91.90 L438.18,91.90 L438.53,91.90 L438.89,91.90 L439.24,91.90 L439.60,91.90 L439.95,91.90 L440.30,91.90 L440.66,91.90 L441.01,91.90 L441.37,91.90 L441.72,91.90 L442.07,91.90 L442.43,91.90 L442.78,91.90 L443.14,91.90 L443.49,91.90 L443.84,91.90 L444.20,91.90 L444.55,91.90 L444.91,91.90 L445.26,91.90 L445.61,91.90 L445.97,91.90 L446.32,91.90 L446.68,91.90 L447.03,91.90 L447.38,91.90 L447.74,91.90 L448.09,91.90 L448.45,91.90 L448.80,91.90 L449.15,91.90 L449.51,91.90 L449.86,91.90 L450.22,91.90 L450.57,91.90 L450.92,91.90 L451.28,91.90 L451.63,91.90 L451.98,91.90 L452.34,91.90 L452.69,91.90 L453.05,91.90 L453.40,91.90 L453.75,91.90 L454.11,91.90 L454.46,91.90 L454.82,91.90 L455.17,91.90 L455.52,91.90 L455.88,91.90 L456.23,91.90 L456.59,91.90 L456.94,91.90 L457.29,91.90 L457.65,91.90 L458.00,91.90 L458.36,91.90 L458.71,91.90 L459.06,91.89 L459.42,91.89 L459.77,91.88 L460.13,91.87 L460.48,91.86 L460.83,91.84 L461.19,91.81 L461.54,91.77 L461.90,91.71 L462.25,91.64 L462.60,91.55 L462.96,91.43 L463.31,91.29 L463.67,91.13 L464.02,90.95 L464.37,90.75 L464.73,90.55 L465.08,90.35 L465.44,90.15 L465.79,89.98 L466.14,89.85 L466.50,89.75 L466.85,89.70 L467.21,89.70 L467.56,89.73 L467.91,89.78 L468.27,89.84 L468.62,89.93 L468.98,90.03 L469.33,90.15 L469.68,90.27 L470.04,90.41 L470.39,90.54 L470.75,90.68 L471.10,90.81 L471.45,90.94 L471.81,91.07 L472.16,91.18 L472.52,91.29 L472.87,91.38 L473.22,91.47 L473.58,91.54 L473.93,91.61 L474.29,91.66 L474.64,91.71 L474.99,91.75 L475.35,91.78 L475.70,91.81 L476.06,91.83 L476.41,91.85 L476.76,91.86 L477.12,91.87 L477.47,91.88 L477.83,91.88 L478.18,91.89 L478.53,91.89 L478.89,91.89 L479.24,91.90 L479.60,91.90 L479.95,91.90 L480.30,91.90 L480.66,91.90 L481.01,91.90 L481.37,91.90 L481.72,91.90 L482.07,91.90 L482.43,91.90 L482.78,91.90 L483.14,91.90 L483.49,91.90 L483.84,91.90 L484.20,91.90 L484.55,91.90 L484.91,91.90 L485.26,91.90 L485.61,91.90 L485.97,91.90 L486.32,91.90 L486.68,91.90 L487.03,91.90 L487.38,91.90 L487.74,91.90 L488.09,91.90 L488.45,91.90 L488.80,91.90" fill="none" stroke="#0a0a0a" stroke-width="2.45" stroke-linejoin="round" stroke-linecap="round"/>
<path d="M262.60,131.10 L262.95,130.97 L263.31,130.81 L263.66,130.64 L264.02,130.46 L264.37,130.28 L264.72,130.11 L265.08,129.97 L265.43,129.87 L265.79,129.81 L266.14,129.80 L266.49,129.85 L266.85,129.95 L267.20,130.08 L267.56,130.25 L267.91,130.43 L268.26,130.61 L268.62,130.79 L268.97,130.96 L269.33,131.10 L269.68,131.23 L270.03,131.34 L270.39,131.43 L270.74,131.51 L271.10,131.57 L271.45,131.63 L271.80,131.68 L272.16,131.73 L272.51,131.75 L272.87,131.75 L273.22,131.70 L273.57,131.55 L273.93,131.25 L274.28,130.68 L274.64,129.70 L274.99,128.12 L275.34,125.75 L275.70,122.42 L276.05,118.06 L276.41,112.78 L276.76,106.89 L277.11,100.94 L277.47,95.64 L277.82,91.72 L278.18,89.78 L278.53,89.93 L278.88,91.59 L279.24,94.53 L279.59,98.45 L279.95,103.00 L280.30,107.77 L280.65,112.44 L281.01,116.73 L281.36,120.45 L281.72,123.53 L282.07,125.95 L282.42,127.77 L282.78,129.08 L283.13,129.99 L283.49,130.59 L283.84,130.97 L284.19,131.20 L284.55,131.34 L284.90,131.41 L285.26,131.46 L285.61,131.48 L285.96,131.49 L286.32,131.50 L286.67,131.50 L287.03,131.50 L287.38,131.50 L287.73,131.50 L288.09,131.50 L288.44,131.50 L288.80,131.50 L289.15,131.50 L289.50,131.50 L289.86,131.50 L290.21,131.50 L290.57,131.50 L290.92,131.50 L291.27,131.50 L291.63,131.50 L291.98,131.50 L292.34,131.50 L292.69,131.50 L293.04,131.50 L293.40,131.50 L293.75,131.50 L294.11,131.50 L294.46,131.50 L294.81,131.50 L295.17,131.50 L295.52,131.50 L295.88,131.50 L296.23,131.50 L296.58,131.50 L296.94,131.50 L297.29,131.50 L297.65,131.50 L298.00,131.50 L298.35,131.50 L298.71,131.50 L299.06,131.50 L299.42,131.50 L299.77,131.50 L300.12,131.50 L300.48,131.50 L300.83,131.50 L301.18,131.50 L301.54,131.50 L301.89,131.50 L302.25,131.50 L302.60,131.50 L302.95,131.50 L303.31,131.50 L303.66,131.50 L304.02,131.50 L304.37,131.50 L304.72,131.50 L305.08,131.50 L305.43,131.50 L305.79,131.50 L306.14,131.50 L306.49,131.50 L306.85,131.50 L307.20,131.50 L307.56,131.50 L307.91,131.50 L308.26,131.50 L308.62,131.50 L308.97,131.50 L309.33,131.50 L309.68,131.50 L310.03,131.50 L310.39,131.50 L310.74,131.50 L311.10,131.50 L311.45,131.50 L311.80,131.50 L312.16,131.50 L312.51,131.50 L312.87,131.50 L313.22,131.50 L313.57,131.50 L313.93,131.50 L314.28,131.50 L314.64,131.50 L314.99,131.50 L315.34,131.50 L315.70,131.50 L316.05,131.50 L316.41,131.50 L316.76,131.50 L317.11,131.50 L317.47,131.50 L317.82,131.50 L318.18,131.50 L318.53,131.50 L318.88,131.50 L319.24,131.50 L319.59,131.50 L319.95,131.50 L320.30,131.50 L320.65,131.50 L321.01,131.50 L321.36,131.50 L321.72,131.50 L322.07,131.50 L322.42,131.50 L322.78,131.50 L323.13,131.50 L323.49,131.50 L323.84,131.50 L324.19,131.50 L324.55,131.50 L324.90,131.50 L325.26,131.50 L325.61,131.50 L325.96,131.50 L326.32,131.50 L326.67,131.50 L327.03,131.50 L327.38,131.50 L327.73,131.50 L328.09,131.50 L328.44,131.50 L328.80,131.50 L329.15,131.50 L329.50,131.50 L329.86,131.50 L330.21,131.50 L330.57,131.50 L330.92,131.50 L331.27,131.50 L331.63,131.50 L331.98,131.50 L332.34,131.50 L332.69,131.50 L333.04,131.50 L333.40,131.50 L333.75,131.50 L334.11,131.50 L334.46,131.50 L334.81,131.50 L335.17,131.50 L335.52,131.50 L335.88,131.50 L336.23,131.50 L336.58,131.50 L336.94,131.50 L337.29,131.49 L337.65,131.49 L338.00,131.48 L338.35,131.47 L338.71,131.45 L339.06,131.43 L339.42,131.40 L339.77,131.36 L340.12,131.31 L340.48,131.24 L340.83,131.16 L341.19,131.06 L341.54,130.94 L341.89,130.80 L342.25,130.66 L342.60,130.50 L342.96,130.34 L343.31,130.18 L343.66,130.03 L344.02,129.91 L344.37,129.80 L344.73,129.73 L345.08,129.70 L345.43,129.70 L345.79,129.72 L346.14,129.76 L346.50,129.81 L346.85,129.88 L347.20,129.96 L347.56,130.05 L347.91,130.14 L348.27,130.25 L348.62,130.35 L348.97,130.46 L349.33,130.57 L349.68,130.67 L350.04,130.77 L350.39,130.86 L350.74,130.95 L351.10,131.03 L351.45,131.10 L351.81,131.17 L352.16,131.22 L352.51,131.27 L352.87,131.31 L353.22,131.35 L353.58,131.38 L353.93,131.40 L354.28,131.43 L354.64,131.44 L354.99,131.46 L355.35,131.47 L355.70,131.47 L356.05,131.48 L356.41,131.49 L356.76,131.49 L357.12,131.49 L357.47,131.49 L357.82,131.50 L358.18,131.50 L358.53,131.50 L358.89,131.50 L359.24,131.50 L359.59,131.50 L359.95,131.50 L360.30,131.50 L360.66,131.50 L361.01,131.50 L361.36,131.50 L361.72,131.50 L362.07,131.50 L362.43,131.50 L362.78,131.50 L363.13,131.50 L363.49,131.50 L363.84,131.50 L364.20,131.50 L364.55,131.50 L364.90,131.50 L365.26,131.50 L365.61,131.50 L365.97,131.50 L366.32,131.50 L366.67,131.50 L367.03,131.50 L367.38,131.50 L367.74,131.50 L368.09,131.50 L368.44,131.50 L368.80,131.50 L369.15,131.50 L369.51,131.50 L369.86,131.50 L370.21,131.50 L370.57,131.50 L370.92,131.50 L371.28,131.50 L371.63,131.50 L371.98,131.50 L372.34,131.50 L372.69,131.50 L373.05,131.50 L373.40,131.50 L373.75,131.50 L374.11,131.50 L374.46,131.50 L374.82,131.50 L375.17,131.50 L375.52,131.50 L375.88,131.50 L376.23,131.50 L376.58,131.50 L376.94,131.50 L377.29,131.50 L377.65,131.50 L378.00,131.50 L378.35,131.50 L378.71,131.50 L379.06,131.50 L379.42,131.50 L379.77,131.50 L380.12,131.50 L380.48,131.50 L380.83,131.50 L381.19,131.50 L381.54,131.50 L381.89,131.50 L382.25,131.50 L382.60,131.50 L382.96,131.50 L383.31,131.50 L383.66,131.50 L384.02,131.50 L384.37,131.50 L384.73,131.50 L385.08,131.50 L385.43,131.50 L385.79,131.50 L386.14,131.50 L386.50,131.50 L386.85,131.50 L387.20,131.50 L387.56,131.50 L387.91,131.50 L388.27,131.50 L388.62,131.50 L388.97,131.50 L389.33,131.50 L389.68,131.50 L390.04,131.50 L390.39,131.50 L390.74,131.50 L391.10,131.50 L391.45,131.50 L391.81,131.50 L392.16,131.50 L392.51,131.50 L392.87,131.50 L393.22,131.50 L393.58,131.50 L393.93,131.50 L394.28,131.50 L394.64,131.50 L394.99,131.50 L395.35,131.50 L395.70,131.50 L396.05,131.50 L396.41,131.50 L396.76,131.50 L397.12,131.50 L397.47,131.50 L397.82,131.50 L398.18,131.50 L398.53,131.50 L398.89,131.50 L399.24,131.50 L399.59,131.50 L399.95,131.50 L400.30,131.50 L400.66,131.50 L401.01,131.50 L401.36,131.50 L401.72,131.50 L402.07,131.50 L402.43,131.50 L402.78,131.49 L403.13,131.49 L403.49,131.48 L403.84,131.47 L404.20,131.45 L404.55,131.43 L404.90,131.39 L405.26,131.34 L405.61,131.27 L405.97,131.17 L406.32,131.04 L406.67,130.86 L407.03,130.63 L407.38,130.34 L407.74,129.98 L408.09,129.53 L408.44,129.00 L408.80,128.38 L409.15,127.66 L409.51,126.87 L409.86,126.01 L410.21,125.10 L410.57,124.16 L410.92,123.23 L411.28,122.35 L411.63,121.54 L411.98,120.84 L412.34,120.29 L412.69,119.91 L413.05,119.72 L413.40,119.72 L413.75,119.84 L414.11,120.08 L414.46,120.42 L414.82,120.85 L415.17,121.37 L415.52,121.96 L415.88,122.60 L416.23,123.28 L416.59,123.99 L416.94,124.70 L417.29,125.40 L417.65,126.08 L418.00,126.74 L418.36,127.36 L418.71,127.93 L419.06,128.45 L419.42,128.92 L419.77,129.34 L420.13,129.71 L420.48,130.03 L420.83,130.31 L421.19,130.54 L421.54,130.74 L421.90,130.90 L422.25,131.03 L422.60,131.14 L422.96,131.22 L423.31,131.29 L423.67,131.34 L424.02,131.38 L424.37,131.41 L424.73,131.44 L425.08,131.45 L425.44,131.47 L425.79,131.48 L426.14,131.48 L426.50,131.49 L426.85,131.49 L427.21,131.49 L427.56,131.50 L427.91,131.50 L428.27,131.50 L428.62,131.50 L428.98,131.50 L429.33,131.50 L429.68,131.50 L430.04,131.50 L430.39,131.50 L430.75,131.50 L431.10,131.50 L431.45,131.50 L431.81,131.50 L432.16,131.50 L432.52,131.50 L432.87,131.50 L433.22,131.50 L433.58,131.50 L433.93,131.50 L434.29,131.50 L434.64,131.50 L434.99,131.50 L435.35,131.50 L435.70,131.50 L436.06,131.50 L436.41,131.50 L436.76,131.50 L437.12,131.50 L437.47,131.50 L437.83,131.50 L438.18,131.50 L438.53,131.50 L438.89,131.50 L439.24,131.50 L439.60,131.50 L439.95,131.50 L440.30,131.50 L440.66,131.50 L441.01,131.50 L441.37,131.50 L441.72,131.50 L442.07,131.50 L442.43,131.50 L442.78,131.50 L443.14,131.50 L443.49,131.50 L443.84,131.50 L444.20,131.50 L444.55,131.50 L444.91,131.50 L445.26,131.50 L445.61,131.50 L445.97,131.50 L446.32,131.50 L446.68,131.50 L447.03,131.50 L447.38,131.50 L447.74,131.50 L448.09,131.50 L448.45,131.50 L448.80,131.50 L449.15,131.50 L449.51,131.50 L449.86,131.50 L450.22,131.50 L450.57,131.50 L450.92,131.50 L451.28,131.50 L451.63,131.50 L451.98,131.50 L452.34,131.50 L452.69,131.50 L453.05,131.50 L453.40,131.50 L453.75,131.50 L454.11,131.50 L454.46,131.50 L454.82,131.50 L455.17,131.50 L455.52,131.50 L455.88,131.50 L456.23,131.50 L456.59,131.50 L456.94,131.50 L457.29,131.50 L457.65,131.50 L458.00,131.50 L458.36,131.50 L458.71,131.50 L459.06,131.49 L459.42,131.49 L459.77,131.48 L460.13,131.46 L460.48,131.44 L460.83,131.41 L461.19,131.36 L461.54,131.30 L461.90,131.22 L462.25,131.11 L462.60,130.97 L462.96,130.80 L463.31,130.59 L463.67,130.35 L464.02,130.07 L464.37,129.78 L464.73,129.47 L465.08,129.17 L465.44,128.88 L465.79,128.63 L466.14,128.42 L466.50,128.28 L466.85,128.21 L467.21,128.21 L467.56,128.24 L467.91,128.31 L468.27,128.42 L468.62,128.55 L468.98,128.70 L469.33,128.87 L469.68,129.06 L470.04,129.26 L470.39,129.47 L470.75,129.67 L471.10,129.87 L471.45,130.07 L471.81,130.25 L472.16,130.42 L472.52,130.58 L472.87,130.72 L473.22,130.85 L473.58,130.96 L473.93,131.06 L474.29,131.15 L474.64,131.22 L474.99,131.27 L475.35,131.32 L475.70,131.36 L476.06,131.39 L476.41,131.42 L476.76,131.44 L477.12,131.46 L477.47,131.47 L477.83,131.48 L478.18,131.48 L478.53,131.49 L478.89,131.49 L479.24,131.49 L479.60,131.50 L479.95,131.50 L480.30,131.50 L480.66,131.50 L481.01,131.50 L481.37,131.50 L481.72,131.50 L482.07,131.50 L482.43,131.50 L482.78,131.50 L483.14,131.50 L483.49,131.50 L483.84,131.50 L484.20,131.50 L484.55,131.50 L484.91,131.50 L485.26,131.50 L485.61,131.50 L485.97,131.50 L486.32,131.50 L486.68,131.50 L487.03,131.50 L487.38,131.50 L487.74,131.50 L488.09,131.50 L488.45,131.50 L488.80,131.50" fill="none" stroke="#0a0a0a" stroke-width="2.45" stroke-linejoin="round" stroke-linecap="round"/>
<path d="M262.60,168.20 L262.95,168.07 L263.31,167.91 L263.66,167.74 L264.02,167.56 L264.37,167.38 L264.72,167.21 L265.08,167.07 L265.43,166.97 L265.79,166.91 L266.14,166.90 L266.49,166.95 L266.85,167.05 L267.20,167.18 L267.56,167.35 L267.91,167.53 L268.26,167.71 L268.62,167.89 L268.97,168.06 L269.33,168.20 L269.68,168.33 L270.03,168.44 L270.39,168.53 L270.74,168.61 L271.10,168.67 L271.45,168.73 L271.80,168.79 L272.16,168.83 L272.51,168.87 L272.87,168.90 L273.22,168.92 L273.57,168.92 L273.93,168.89 L274.28,168.83 L274.64,168.72 L274.99,168.54 L275.34,168.29 L275.70,167.94 L276.05,167.48 L276.41,166.95 L276.76,166.36 L277.11,165.76 L277.47,165.24 L277.82,164.84 L278.18,164.65 L278.53,164.65 L278.88,164.80 L279.24,165.08 L279.59,165.45 L279.95,165.88 L280.30,166.34 L280.65,166.78 L281.01,167.19 L281.36,167.55 L281.72,167.84 L282.07,168.07 L282.42,168.24 L282.78,168.37 L283.13,168.46 L283.49,168.51 L283.84,168.55 L284.19,168.57 L284.55,168.58 L284.90,168.59 L285.26,168.60 L285.61,168.60 L285.96,168.60 L286.32,168.60 L286.67,168.60 L287.03,168.60 L287.38,168.60 L287.73,168.60 L288.09,168.60 L288.44,168.60 L288.80,168.60 L289.15,168.60 L289.50,168.60 L289.86,168.60 L290.21,168.60 L290.57,168.60 L290.92,168.60 L291.27,168.60 L291.63,168.60 L291.98,168.60 L292.34,168.60 L292.69,168.60 L293.04,168.60 L293.40,168.60 L293.75,168.60 L294.11,168.60 L294.46,168.60 L294.81,168.60 L295.17,168.60 L295.52,168.60 L295.88,168.60 L296.23,168.60 L296.58,168.60 L296.94,168.60 L297.29,168.60 L297.65,168.60 L298.00,168.60 L298.35,168.60 L298.71,168.60 L299.06,168.60 L299.42,168.60 L299.77,168.60 L300.12,168.60 L300.48,168.60 L300.83,168.60 L301.18,168.60 L301.54,168.60 L301.89,168.60 L302.25,168.60 L302.60,168.60 L302.95,168.60 L303.31,168.60 L303.66,168.60 L304.02,168.60 L304.37,168.60 L304.72,168.60 L305.08,168.60 L305.43,168.60 L305.79,168.60 L306.14,168.60 L306.49,168.60 L306.85,168.60 L307.20,168.60 L307.56,168.60 L307.91,168.60 L308.26,168.60 L308.62,168.60 L308.97,168.60 L309.33,168.60 L309.68,168.60 L310.03,168.60 L310.39,168.60 L310.74,168.60 L311.10,168.60 L311.45,168.60 L311.80,168.60 L312.16,168.60 L312.51,168.60 L312.87,168.60 L313.22,168.60 L313.57,168.60 L313.93,168.60 L314.28,168.60 L314.64,168.60 L314.99,168.60 L315.34,168.60 L315.70,168.60 L316.05,168.60 L316.41,168.60 L316.76,168.60 L317.11,168.60 L317.47,168.60 L317.82,168.60 L318.18,168.60 L318.53,168.60 L318.88,168.60 L319.24,168.60 L319.59,168.60 L319.95,168.60 L320.30,168.60 L320.65,168.60 L321.01,168.60 L321.36,168.60 L321.72,168.60 L322.07,168.60 L322.42,168.60 L322.78,168.60 L323.13,168.60 L323.49,168.60 L323.84,168.60 L324.19,168.60 L324.55,168.60 L324.90,168.60 L325.26,168.60 L325.61,168.60 L325.96,168.60 L326.32,168.60 L326.67,168.60 L327.03,168.60 L327.38,168.60 L327.73,168.60 L328.09,168.60 L328.44,168.60 L328.80,168.60 L329.15,168.60 L329.50,168.60 L329.86,168.60 L330.21,168.60 L330.57,168.60 L330.92,168.60 L331.27,168.60 L331.63,168.60 L331.98,168.60 L332.34,168.60 L332.69,168.60 L333.04,168.60 L333.40,168.60 L333.75,168.60 L334.11,168.60 L334.46,168.60 L334.81,168.60 L335.17,168.60 L335.52,168.60 L335.88,168.60 L336.23,168.60 L336.58,168.60 L336.94,168.60 L337.29,168.60 L337.65,168.59 L338.00,168.59 L338.35,168.59 L338.71,168.58 L339.06,168.57 L339.42,168.56 L339.77,168.54 L340.12,168.51 L340.48,168.48 L340.83,168.45 L341.19,168.40 L341.54,168.35 L341.89,168.29 L342.25,168.22 L342.60,168.15 L342.96,168.08 L343.31,168.01 L343.66,167.95 L344.02,167.89 L344.37,167.85 L344.73,167.82 L345.08,167.80 L345.43,167.80 L345.79,167.81 L346.14,167.83 L346.50,167.85 L346.85,167.88 L347.20,167.91 L347.56,167.95 L347.91,168.00 L348.27,168.04 L348.62,168.09 L348.97,168.14 L349.33,168.19 L349.68,168.23 L350.04,168.28 L350.39,168.32 L350.74,168.36 L351.10,168.39 L351.45,168.42 L351.81,168.45 L352.16,168.48 L352.51,168.50 L352.87,168.52 L353.22,168.53 L353.58,168.55 L353.93,168.56 L354.28,168.57 L354.64,168.57 L354.99,168.58 L355.35,168.58 L355.70,168.59 L356.05,168.59 L356.41,168.59 L356.76,168.60 L357.12,168.60 L357.47,168.60 L357.82,168.60 L358.18,168.60 L358.53,168.60 L358.89,168.60 L359.24,168.60 L359.59,168.60 L359.95,168.60 L360.30,168.60 L360.66,168.60 L361.01,168.60 L361.36,168.60 L361.72,168.60 L362.07,168.60 L362.43,168.60 L362.78,168.60 L363.13,168.60 L363.49,168.60 L363.84,168.60 L364.20,168.60 L364.55,168.60 L364.90,168.60 L365.26,168.60 L365.61,168.60 L365.97,168.60 L366.32,168.60 L366.67,168.60 L367.03,168.60 L367.38,168.60 L367.74,168.60 L368.09,168.60 L368.44,168.60 L368.80,168.60 L369.15,168.60 L369.51,168.60 L369.86,168.60 L370.21,168.60 L370.57,168.60 L370.92,168.60 L371.28,168.60 L371.63,168.60 L371.98,168.60 L372.34,168.60 L372.69,168.60 L373.05,168.60 L373.40,168.60 L373.75,168.60 L374.11,168.60 L374.46,168.60 L374.82,168.60 L375.17,168.60 L375.52,168.60 L375.88,168.60 L376.23,168.60 L376.58,168.60 L376.94,168.60 L377.29,168.60 L377.65,168.60 L378.00,168.60 L378.35,168.60 L378.71,168.60 L379.06,168.60 L379.42,168.60 L379.77,168.60 L380.12,168.60 L380.48,168.60 L380.83,168.60 L381.19,168.60 L381.54,168.60 L381.89,168.60 L382.25,168.60 L382.60,168.60 L382.96,168.60 L383.31,168.60 L383.66,168.60 L384.02,168.60 L384.37,168.60 L384.73,168.60 L385.08,168.60 L385.43,168.60 L385.79,168.60 L386.14,168.60 L386.50,168.60 L386.85,168.60 L387.20,168.60 L387.56,168.60 L387.91,168.60 L388.27,168.60 L388.62,168.60 L388.97,168.60 L389.33,168.60 L389.68,168.60 L390.04,168.60 L390.39,168.60 L390.74,168.60 L391.10,168.60 L391.45,168.60 L391.81,168.60 L392.16,168.60 L392.51,168.60 L392.87,168.60 L393.22,168.60 L393.58,168.60 L393.93,168.60 L394.28,168.60 L394.64,168.60 L394.99,168.60 L395.35,168.60 L395.70,168.60 L396.05,168.60 L396.41,168.60 L396.76,168.60 L397.12,168.60 L397.47,168.60 L397.82,168.60 L398.18,168.60 L398.53,168.60 L398.89,168.60 L399.24,168.60 L399.59,168.60 L399.95,168.60 L400.30,168.60 L400.66,168.60 L401.01,168.60 L401.36,168.60 L401.72,168.60 L402.07,168.60 L402.43,168.59 L402.78,168.59 L403.13,168.58 L403.49,168.56 L403.84,168.54 L404.20,168.51 L404.55,168.47 L404.90,168.40 L405.26,168.30 L405.61,168.16 L405.97,167.98 L406.32,167.72 L406.67,167.38 L407.03,166.94 L407.38,166.38 L407.74,165.68 L408.09,164.83 L408.44,163.81 L408.80,162.62 L409.15,161.25 L409.51,159.74 L409.86,158.08 L410.21,156.34 L410.57,154.55 L410.92,152.77 L411.28,151.07 L411.63,149.52 L411.98,148.18 L412.34,147.12 L412.69,146.40 L413.05,146.04 L413.40,146.04 L413.75,146.27 L414.11,146.72 L414.46,147.37 L414.82,148.21 L415.17,149.20 L415.52,150.33 L415.88,151.56 L416.23,152.86 L416.59,154.21 L416.94,155.57 L417.29,156.92 L417.65,158.23 L418.00,159.48 L418.36,160.66 L418.71,161.76 L419.06,162.76 L419.42,163.67 L419.77,164.47 L420.13,165.18 L420.48,165.79 L420.83,166.32 L421.19,166.77 L421.54,167.14 L421.90,167.45 L422.25,167.70 L422.60,167.90 L422.96,168.07 L423.31,168.20 L423.67,168.30 L424.02,168.37 L424.37,168.43 L424.73,168.48 L425.08,168.51 L425.44,168.54 L425.79,168.56 L426.14,168.57 L426.50,168.58 L426.85,168.59 L427.21,168.59 L427.56,168.59 L427.91,168.60 L428.27,168.60 L428.62,168.60 L428.98,168.60 L429.33,168.60 L429.68,168.60 L430.04,168.60 L430.39,168.60 L430.75,168.60 L431.10,168.60 L431.45,168.60 L431.81,168.60 L432.16,168.60 L432.52,168.60 L432.87,168.60 L433.22,168.60 L433.58,168.60 L433.93,168.60 L434.29,168.60 L434.64,168.60 L434.99,168.60 L435.35,168.60 L435.70,168.60 L436.06,168.60 L436.41,168.60 L436.76,168.60 L437.12,168.60 L437.47,168.60 L437.83,168.60 L438.18,168.60 L438.53,168.60 L438.89,168.60 L439.24,168.60 L439.60,168.60 L439.95,168.60 L440.30,168.60 L440.66,168.60 L441.01,168.60 L441.37,168.60 L441.72,168.60 L442.07,168.60 L442.43,168.60 L442.78,168.60 L443.14,168.60 L443.49,168.60 L443.84,168.60 L444.20,168.60 L444.55,168.60 L444.91,168.60 L445.26,168.60 L445.61,168.60 L445.97,168.60 L446.32,168.60 L446.68,168.60 L447.03,168.60 L447.38,168.60 L447.74,168.60 L448.09,168.60 L448.45,168.60 L448.80,168.60 L449.15,168.60 L449.51,168.60 L449.86,168.60 L450.22,168.60 L450.57,168.60 L450.92,168.60 L451.28,168.60 L451.63,168.60 L451.98,168.60 L452.34,168.60 L452.69,168.60 L453.05,168.60 L453.40,168.60 L453.75,168.60 L454.11,168.60 L454.46,168.60 L454.82,168.60 L455.17,168.60 L455.52,168.60 L455.88,168.60 L456.23,168.60 L456.59,168.60 L456.94,168.60 L457.29,168.60 L457.65,168.60 L458.00,168.60 L458.36,168.60 L458.71,168.60 L459.06,168.59 L459.42,168.59 L459.77,168.58 L460.13,168.57 L460.48,168.55 L460.83,168.52 L461.19,168.48 L461.54,168.42 L461.90,168.34 L462.25,168.24 L462.60,168.12 L462.96,167.96 L463.31,167.77 L463.67,167.55 L464.02,167.30 L464.37,167.04 L464.73,166.76 L465.08,166.48 L465.44,166.22 L465.79,165.99 L466.14,165.80 L466.50,165.67 L466.85,165.61 L467.21,165.61 L467.56,165.64 L467.91,165.70 L468.27,165.80 L468.62,165.91 L468.98,166.05 L469.33,166.21 L469.68,166.38 L470.04,166.56 L470.39,166.75 L470.75,166.94 L471.10,167.12 L471.45,167.30 L471.81,167.46 L472.16,167.62 L472.52,167.76 L472.87,167.89 L473.22,168.01 L473.58,168.11 L473.93,168.20 L474.29,168.28 L474.64,168.34 L474.99,168.40 L475.35,168.44 L475.70,168.48 L476.06,168.50 L476.41,168.53 L476.76,168.55 L477.12,168.56 L477.47,168.57 L477.83,168.58 L478.18,168.58 L478.53,168.59 L478.89,168.59 L479.24,168.59 L479.60,168.60 L479.95,168.60 L480.30,168.60 L480.66,168.60 L481.01,168.60 L481.37,168.60 L481.72,168.60 L482.07,168.60 L482.43,168.60 L482.78,168.60 L483.14,168.60 L483.49,168.60 L483.84,168.60 L484.20,168.60 L484.55,168.60 L484.91,168.60 L485.26,168.60 L485.61,168.60 L485.97,168.60 L486.32,168.60 L486.68,168.60 L487.03,168.60 L487.38,168.60 L487.74,168.60 L488.09,168.60 L488.45,168.60 L488.80,168.60" fill="none" stroke="#0a0a0a" stroke-width="2.45" stroke-linejoin="round" stroke-linecap="round"/>
<path d="M262.60,209.10 L262.95,208.97 L263.31,208.81 L263.66,208.64 L264.02,208.46 L264.37,208.28 L264.72,208.11 L265.08,207.97 L265.43,207.87 L265.79,207.81 L266.14,207.80 L266.49,207.85 L266.85,207.95 L267.20,208.08 L267.56,208.25 L267.91,208.43 L268.26,208.61 L268.62,208.79 L268.97,208.96 L269.33,209.10 L269.68,209.23 L270.03,209.34 L270.39,209.43 L270.74,209.51 L271.10,209.57 L271.45,209.63 L271.80,209.69 L272.16,209.73 L272.51,209.78 L272.87,209.81 L273.22,209.83 L273.57,209.84 L273.93,209.83 L274.28,209.81 L274.64,209.76 L274.99,209.69 L275.34,209.59 L275.70,209.46 L276.05,209.30 L276.41,209.11 L276.76,208.91 L277.11,208.71 L277.47,208.54 L277.82,208.41 L278.18,208.34 L278.53,208.33 L278.88,208.37 L279.24,208.45 L279.59,208.56 L279.95,208.69 L280.30,208.82 L280.65,208.96 L281.01,209.08 L281.36,209.18 L281.72,209.27 L282.07,209.34 L282.42,209.39 L282.78,209.43 L283.13,209.46 L283.49,209.47 L283.84,209.48 L284.19,209.49 L284.55,209.50 L284.90,209.50 L285.26,209.50 L285.61,209.50 L285.96,209.50 L286.32,209.50 L286.67,209.50 L287.03,209.50 L287.38,209.50 L287.73,209.50 L288.09,209.50 L288.44,209.50 L288.80,209.50 L289.15,209.50 L289.50,209.50 L289.86,209.50 L290.21,209.50 L290.57,209.50 L290.92,209.50 L291.27,209.50 L291.63,209.50 L291.98,209.50 L292.34,209.50 L292.69,209.50 L293.04,209.50 L293.40,209.50 L293.75,209.50 L294.11,209.50 L294.46,209.50 L294.81,209.50 L295.17,209.50 L295.52,209.50 L295.88,209.50 L296.23,209.50 L296.58,209.50 L296.94,209.50 L297.29,209.50 L297.65,209.50 L298.00,209.50 L298.35,209.50 L298.71,209.50 L299.06,209.50 L299.42,209.50 L299.77,209.50 L300.12,209.50 L300.48,209.50 L300.83,209.50 L301.18,209.50 L301.54,209.50 L301.89,209.50 L302.25,209.50 L302.60,209.50 L302.95,209.50 L303.31,209.50 L303.66,209.50 L304.02,209.50 L304.37,209.50 L304.72,209.50 L305.08,209.50 L305.43,209.50 L305.79,209.50 L306.14,209.50 L306.49,209.50 L306.85,209.50 L307.20,209.50 L307.56,209.50 L307.91,209.50 L308.26,209.50 L308.62,209.50 L308.97,209.50 L309.33,209.50 L309.68,209.50 L310.03,209.50 L310.39,209.50 L310.74,209.50 L311.10,209.50 L311.45,209.50 L311.80,209.50 L312.16,209.50 L312.51,209.50 L312.87,209.50 L313.22,209.50 L313.57,209.50 L313.93,209.50 L314.28,209.50 L314.64,209.50 L314.99,209.50 L315.34,209.50 L315.70,209.50 L316.05,209.50 L316.41,209.50 L316.76,209.50 L317.11,209.50 L317.47,209.50 L317.82,209.50 L318.18,209.50 L318.53,209.50 L318.88,209.50 L319.24,209.50 L319.59,209.50 L319.95,209.50 L320.30,209.50 L320.65,209.50 L321.01,209.50 L321.36,209.50 L321.72,209.50 L322.07,209.50 L322.42,209.50 L322.78,209.50 L323.13,209.50 L323.49,209.50 L323.84,209.50 L324.19,209.50 L324.55,209.50 L324.90,209.50 L325.26,209.50 L325.61,209.50 L325.96,209.50 L326.32,209.50 L326.67,209.50 L327.03,209.50 L327.38,209.50 L327.73,209.50 L328.09,209.50 L328.44,209.50 L328.80,209.50 L329.15,209.50 L329.50,209.50 L329.86,209.50 L330.21,209.50 L330.57,209.50 L330.92,209.50 L331.27,209.50 L331.63,209.50 L331.98,209.50 L332.34,209.50 L332.69,209.50 L333.04,209.50 L333.40,209.50 L333.75,209.50 L334.11,209.50 L334.46,209.50 L334.81,209.50 L335.17,209.50 L335.52,209.50 L335.88,209.50 L336.23,209.50 L336.58,209.50 L336.94,209.50 L337.29,209.50 L337.65,209.50 L338.00,209.49 L338.35,209.49 L338.71,209.48 L339.06,209.47 L339.42,209.46 L339.77,209.45 L340.12,209.43 L340.48,209.40 L340.83,209.37 L341.19,209.33 L341.54,209.28 L341.89,209.23 L342.25,209.17 L342.60,209.11 L342.96,209.05 L343.31,208.99 L343.66,208.93 L344.02,208.88 L344.37,208.84 L344.73,208.81 L345.08,208.80 L345.43,208.80 L345.79,208.81 L346.14,208.82 L346.50,208.84 L346.85,208.87 L347.20,208.90 L347.56,208.94 L347.91,208.97 L348.27,209.01 L348.62,209.05 L348.97,209.10 L349.33,209.14 L349.68,209.18 L350.04,209.22 L350.39,209.25 L350.74,209.29 L351.10,209.32 L351.45,209.35 L351.81,209.37 L352.16,209.39 L352.51,209.41 L352.87,209.43 L353.22,209.44 L353.58,209.45 L353.93,209.46 L354.28,209.47 L354.64,209.48 L354.99,209.48 L355.35,209.49 L355.70,209.49 L356.05,209.49 L356.41,209.49 L356.76,209.50 L357.12,209.50 L357.47,209.50 L357.82,209.50 L358.18,209.50 L358.53,209.50 L358.89,209.50 L359.24,209.50 L359.59,209.50 L359.95,209.50 L360.30,209.50 L360.66,209.50 L361.01,209.50 L361.36,209.50 L361.72,209.50 L362.07,209.50 L362.43,209.50 L362.78,209.50 L363.13,209.50 L363.49,209.50 L363.84,209.50 L364.20,209.50 L364.55,209.50 L364.90,209.50 L365.26,209.50 L365.61,209.50 L365.97,209.50 L366.32,209.50 L366.67,209.50 L367.03,209.50 L367.38,209.50 L367.74,209.50 L368.09,209.50 L368.44,209.50 L368.80,209.50 L369.15,209.50 L369.51,209.50 L369.86,209.50 L370.21,209.50 L370.57,209.50 L370.92,209.50 L371.28,209.50 L371.63,209.50 L371.98,209.50 L372.34,209.50 L372.69,209.50 L373.05,209.50 L373.40,209.50 L373.75,209.50 L374.11,209.50 L374.46,209.50 L374.82,209.50 L375.17,209.50 L375.52,209.50 L375.88,209.50 L376.23,209.50 L376.58,209.50 L376.94,209.50 L377.29,209.50 L377.65,209.50 L378.00,209.50 L378.35,209.50 L378.71,209.50 L379.06,209.50 L379.42,209.50 L379.77,209.50 L380.12,209.50 L380.48,209.50 L380.83,209.50 L381.19,209.50 L381.54,209.50 L381.89,209.50 L382.25,209.50 L382.60,209.50 L382.96,209.50 L383.31,209.50 L383.66,209.50 L384.02,209.50 L384.37,209.50 L384.73,209.50 L385.08,209.50 L385.43,209.50 L385.79,209.50 L386.14,209.50 L386.50,209.50 L386.85,209.50 L387.20,209.50 L387.56,209.50 L387.91,209.50 L388.27,209.50 L388.62,209.50 L388.97,209.50 L389.33,209.50 L389.68,209.50 L390.04,209.50 L390.39,209.50 L390.74,209.50 L391.10,209.50 L391.45,209.50 L391.81,209.50 L392.16,209.50 L392.51,209.50 L392.87,209.50 L393.22,209.50 L393.58,209.50 L393.93,209.50 L394.28,209.50 L394.64,209.50 L394.99,209.50 L395.35,209.50 L395.70,209.50 L396.05,209.50 L396.41,209.50 L396.76,209.50 L397.12,209.50 L397.47,209.50 L397.82,209.50 L398.18,209.50 L398.53,209.50 L398.89,209.50 L399.24,209.50 L399.59,209.50 L399.95,209.50 L400.30,209.50 L400.66,209.50 L401.01,209.50 L401.36,209.50 L401.72,209.50 L402.07,209.49 L402.43,209.49 L402.78,209.48 L403.13,209.47 L403.49,209.45 L403.84,209.43 L404.20,209.39 L404.55,209.33 L404.90,209.24 L405.26,209.11 L405.61,208.93 L405.97,208.69 L406.32,208.36 L406.67,207.92 L407.03,207.34 L407.38,206.62 L407.74,205.71 L408.09,204.60 L408.44,203.27 L408.80,201.72 L409.15,199.94 L409.51,197.97 L409.86,195.82 L410.21,193.55 L410.57,191.22 L410.92,188.90 L411.28,186.69 L411.63,184.67 L411.98,182.94 L412.34,181.56 L412.69,180.62 L413.05,180.15 L413.40,180.15 L413.75,180.45 L414.11,181.04 L414.46,181.89 L414.82,182.97 L415.17,184.26 L415.52,185.73 L415.88,187.33 L416.23,189.03 L416.59,190.78 L416.94,192.55 L417.29,194.30 L417.65,196.01 L418.00,197.64 L418.36,199.17 L418.71,200.60 L419.06,201.91 L419.42,203.08 L419.77,204.13 L420.13,205.05 L420.48,205.85 L420.83,206.53 L421.19,207.11 L421.54,207.60 L421.90,208.00 L422.25,208.33 L422.60,208.60 L422.96,208.81 L423.31,208.97 L423.67,209.11 L424.02,209.21 L424.37,209.28 L424.73,209.34 L425.08,209.39 L425.44,209.42 L425.79,209.44 L426.14,209.46 L426.50,209.47 L426.85,209.48 L427.21,209.49 L427.56,209.49 L427.91,209.49 L428.27,209.50 L428.62,209.50 L428.98,209.50 L429.33,209.50 L429.68,209.50 L430.04,209.50 L430.39,209.50 L430.75,209.50 L431.10,209.50 L431.45,209.50 L431.81,209.50 L432.16,209.50 L432.52,209.50 L432.87,209.50 L433.22,209.50 L433.58,209.50 L433.93,209.50 L434.29,209.50 L434.64,209.50 L434.99,209.50 L435.35,209.50 L435.70,209.50 L436.06,209.50 L436.41,209.50 L436.76,209.50 L437.12,209.50 L437.47,209.50 L437.83,209.50 L438.18,209.50 L438.53,209.50 L438.89,209.50 L439.24,209.50 L439.60,209.50 L439.95,209.50 L440.30,209.50 L440.66,209.50 L441.01,209.50 L441.37,209.50 L441.72,209.50 L442.07,209.50 L442.43,209.50 L442.78,209.50 L443.14,209.50 L443.49,209.50 L443.84,209.50 L444.20,209.50 L444.55,209.50 L444.91,209.50 L445.26,209.50 L445.61,209.50 L445.97,209.50 L446.32,209.50 L446.68,209.50 L447.03,209.50 L447.38,209.50 L447.74,209.50 L448.09,209.50 L448.45,209.50 L448.80,209.50 L449.15,209.50 L449.51,209.50 L449.86,209.50 L450.22,209.50 L450.57,209.50 L450.92,209.50 L451.28,209.50 L451.63,209.50 L451.98,209.50 L452.34,209.50 L452.69,209.50 L453.05,209.50 L453.40,209.50 L453.75,209.50 L454.11,209.50 L454.46,209.50 L454.82,209.50 L455.17,209.50 L455.52,209.50 L455.88,209.50 L456.23,209.50 L456.59,209.50 L456.94,209.50 L457.29,209.50 L457.65,209.50 L458.00,209.50 L458.36,209.50 L458.71,209.50 L459.06,209.50 L459.42,209.50 L459.77,209.50 L460.13,209.50 L460.48,209.49 L460.83,209.49 L461.19,209.49 L461.54,209.48 L461.90,209.47 L462.25,209.46 L462.60,209.45 L462.96,209.44 L463.31,209.42 L463.67,209.40 L464.02,209.37 L464.37,209.34 L464.73,209.32 L465.08,209.29 L465.44,209.26 L465.79,209.24 L466.14,209.22 L466.50,209.21 L466.85,209.20 L467.21,209.20 L467.56,209.20 L467.91,209.21 L468.27,209.22 L468.62,209.23 L468.98,209.25 L469.33,209.26 L469.68,209.28 L470.04,209.30 L470.39,209.32 L470.75,209.33 L471.10,209.35 L471.45,209.37 L471.81,209.39 L472.16,209.40 L472.52,209.42 L472.87,209.43 L473.22,209.44 L473.58,209.45 L473.93,209.46 L474.29,209.47 L474.64,209.47 L474.99,209.48 L475.35,209.48 L475.70,209.49 L476.06,209.49 L476.41,209.49 L476.76,209.49 L477.12,209.50 L477.47,209.50 L477.83,209.50 L478.18,209.50 L478.53,209.50 L478.89,209.50 L479.24,209.50 L479.60,209.50 L479.95,209.50 L480.30,209.50 L480.66,209.50 L481.01,209.50 L481.37,209.50 L481.72,209.50 L482.07,209.50 L482.43,209.50 L482.78,209.50 L483.14,209.50 L483.49,209.50 L483.84,209.50 L484.20,209.50 L484.55,209.50 L484.91,209.50 L485.26,209.50 L485.61,209.50 L485.97,209.50 L486.32,209.50 L486.68,209.50 L487.03,209.50 L487.38,209.50 L487.74,209.50 L488.09,209.50 L488.45,209.50 L488.80,209.50" fill="none" stroke="#0a0a0a" stroke-width="2.45" stroke-linejoin="round" stroke-linecap="round"/>
<path d="M262.60,246.70 L262.95,246.57 L263.31,246.41 L263.66,246.24 L264.02,246.06 L264.37,245.88 L264.72,245.71 L265.08,245.57 L265.43,245.47 L265.79,245.41 L266.14,245.40 L266.49,245.45 L266.85,245.55 L267.20,245.68 L267.56,245.85 L267.91,246.03 L268.26,246.21 L268.62,246.39 L268.97,246.56 L269.33,246.70 L269.68,246.83 L270.03,246.94 L270.39,247.03 L270.74,247.11 L271.10,247.17 L271.45,247.23 L271.80,247.29 L272.16,247.33 L272.51,247.38 L272.87,247.41 L273.22,247.43 L273.57,247.44 L273.93,247.43 L274.28,247.40 L274.64,247.35 L274.99,247.28 L275.34,247.17 L275.70,247.03 L276.05,246.86 L276.41,246.66 L276.76,246.45 L277.11,246.24 L277.47,246.05 L277.82,245.91 L278.18,245.84 L278.53,245.83 L278.88,245.88 L279.24,245.96 L279.59,246.08 L279.95,246.22 L280.30,246.37 L280.65,246.51 L281.01,246.64 L281.36,246.76 L281.72,246.85 L282.07,246.93 L282.42,246.98 L282.78,247.02 L283.13,247.05 L283.49,247.07 L283.84,247.08 L284.19,247.09 L284.55,247.09 L284.90,247.10 L285.26,247.10 L285.61,247.10 L285.96,247.10 L286.32,247.10 L286.67,247.10 L287.03,247.10 L287.38,247.10 L287.73,247.10 L288.09,247.10 L288.44,247.10 L288.80,247.10 L289.15,247.10 L289.50,247.10 L289.86,247.10 L290.21,247.10 L290.57,247.10 L290.92,247.10 L291.27,247.10 L291.63,247.10 L291.98,247.10 L292.34,247.10 L292.69,247.10 L293.04,247.10 L293.40,247.10 L293.75,247.10 L294.11,247.10 L294.46,247.10 L294.81,247.10 L295.17,247.10 L295.52,247.10 L295.88,247.10 L296.23,247.10 L296.58,247.10 L296.94,247.10 L297.29,247.10 L297.65,247.10 L298.00,247.10 L298.35,247.10 L298.71,247.10 L299.06,247.10 L299.42,247.10 L299.77,247.10 L300.12,247.10 L300.48,247.10 L300.83,247.10 L301.18,247.10 L301.54,247.10 L301.89,247.10 L302.25,247.10 L302.60,247.10 L302.95,247.10 L303.31,247.10 L303.66,247.10 L304.02,247.10 L304.37,247.10 L304.72,247.10 L305.08,247.10 L305.43,247.10 L305.79,247.10 L306.14,247.10 L306.49,247.10 L306.85,247.10 L307.20,247.10 L307.56,247.10 L307.91,247.10 L308.26,247.10 L308.62,247.10 L308.97,247.10 L309.33,247.10 L309.68,247.10 L310.03,247.10 L310.39,247.10 L310.74,247.10 L311.10,247.10 L311.45,247.10 L311.80,247.10 L312.16,247.10 L312.51,247.10 L312.87,247.10 L313.22,247.10 L313.57,247.10 L313.93,247.10 L314.28,247.10 L314.64,247.10 L314.99,247.10 L315.34,247.10 L315.70,247.10 L316.05,247.10 L316.41,247.10 L316.76,247.10 L317.11,247.10 L317.47,247.10 L317.82,247.10 L318.18,247.10 L318.53,247.10 L318.88,247.10 L319.24,247.10 L319.59,247.10 L319.95,247.10 L320.30,247.10 L320.65,247.10 L321.01,247.10 L321.36,247.10 L321.72,247.10 L322.07,247.10 L322.42,247.10 L322.78,247.10 L323.13,247.10 L323.49,247.10 L323.84,247.10 L324.19,247.10 L324.55,247.10 L324.90,247.10 L325.26,247.10 L325.61,247.10 L325.96,247.10 L326.32,247.10 L326.67,247.10 L327.03,247.10 L327.38,247.10 L327.73,247.10 L328.09,247.10 L328.44,247.10 L328.80,247.10 L329.15,247.10 L329.50,247.10 L329.86,247.10 L330.21,247.10 L330.57,247.10 L330.92,247.10 L331.27,247.10 L331.63,247.10 L331.98,247.10 L332.34,247.10 L332.69,247.10 L333.04,247.10 L333.40,247.10 L333.75,247.10 L334.11,247.10 L334.46,247.10 L334.81,247.10 L335.17,247.10 L335.52,247.10 L335.88,247.10 L336.23,247.10 L336.58,247.10 L336.94,247.10 L337.29,247.09 L337.65,247.09 L338.00,247.09 L338.35,247.08 L338.71,247.07 L339.06,247.05 L339.42,247.03 L339.77,247.00 L340.12,246.96 L340.48,246.91 L340.83,246.85 L341.19,246.78 L341.54,246.69 L341.89,246.60 L342.25,246.49 L342.60,246.38 L342.96,246.26 L343.31,246.15 L343.66,246.04 L344.02,245.95 L344.37,245.88 L344.73,245.83 L345.08,245.80 L345.43,245.80 L345.79,245.82 L346.14,245.84 L346.50,245.88 L346.85,245.93 L347.20,245.99 L347.56,246.05 L347.91,246.12 L348.27,246.20 L348.62,246.27 L348.97,246.35 L349.33,246.43 L349.68,246.50 L350.04,246.57 L350.39,246.64 L350.74,246.70 L351.10,246.76 L351.45,246.81 L351.81,246.86 L352.16,246.90 L352.51,246.93 L352.87,246.97 L353.22,246.99 L353.58,247.01 L353.93,247.03 L354.28,247.05 L354.64,247.06 L354.99,247.07 L355.35,247.08 L355.70,247.08 L356.05,247.09 L356.41,247.09 L356.76,247.09 L357.12,247.09 L357.47,247.10 L357.82,247.10 L358.18,247.10 L358.53,247.10 L358.89,247.10 L359.24,247.10 L359.59,247.10 L359.95,247.10 L360.30,247.10 L360.66,247.10 L361.01,247.10 L361.36,247.10 L361.72,247.10 L362.07,247.10 L362.43,247.10 L362.78,247.10 L363.13,247.10 L363.49,247.10 L363.84,247.10 L364.20,247.10 L364.55,247.10 L364.90,247.10 L365.26,247.10 L365.61,247.10 L365.97,247.10 L366.32,247.10 L366.67,247.10 L367.03,247.10 L367.38,247.10 L367.74,247.10 L368.09,247.10 L368.44,247.10 L368.80,247.10 L369.15,247.10 L369.51,247.10 L369.86,247.10 L370.21,247.10 L370.57,247.10 L370.92,247.10 L371.28,247.10 L371.63,247.10 L371.98,247.10 L372.34,247.10 L372.69,247.10 L373.05,247.10 L373.40,247.10 L373.75,247.10 L374.11,247.10 L374.46,247.10 L374.82,247.10 L375.17,247.10 L375.52,247.10 L375.88,247.10 L376.23,247.10 L376.58,247.10 L376.94,247.10 L377.29,247.10 L377.65,247.10 L378.00,247.10 L378.35,247.10 L378.71,247.10 L379.06,247.10 L379.42,247.10 L379.77,247.10 L380.12,247.10 L380.48,247.10 L380.83,247.10 L381.19,247.10 L381.54,247.10 L381.89,247.10 L382.25,247.10 L382.60,247.10 L382.96,247.10 L383.31,247.10 L383.66,247.10 L384.02,247.10 L384.37,247.10 L384.73,247.10 L385.08,247.10 L385.43,247.10 L385.79,247.10 L386.14,247.10 L386.50,247.10 L386.85,247.10 L387.20,247.10 L387.56,247.10 L387.91,247.10 L388.27,247.10 L388.62,247.10 L388.97,247.10 L389.33,247.10 L389.68,247.10 L390.04,247.10 L390.39,247.10 L390.74,247.10 L391.10,247.10 L391.45,247.10 L391.81,247.10 L392.16,247.10 L392.51,247.10 L392.87,247.10 L393.22,247.10 L393.58,247.10 L393.93,247.10 L394.28,247.10 L394.64,247.10 L394.99,247.10 L395.35,247.10 L395.70,247.10 L396.05,247.10 L396.41,247.10 L396.76,247.10 L397.12,247.10 L397.47,247.10 L397.82,247.10 L398.18,247.10 L398.53,247.10 L398.89,247.10 L399.24,247.10 L399.59,247.10 L399.95,247.10 L400.30,247.10 L400.66,247.10 L401.01,247.10 L401.36,247.10 L401.72,247.10 L402.07,247.09 L402.43,247.09 L402.78,247.08 L403.13,247.07 L403.49,247.06 L403.84,247.03 L404.20,246.99 L404.55,246.93 L404.90,246.85 L405.26,246.73 L405.61,246.56 L405.97,246.32 L406.32,246.00 L406.67,245.58 L407.03,245.03 L407.38,244.33 L407.74,243.46 L408.09,242.40 L408.44,241.12 L408.80,239.63 L409.15,237.93 L409.51,236.04 L409.86,233.98 L410.21,231.80 L410.57,229.56 L410.92,227.34 L411.28,225.22 L411.63,223.29 L411.98,221.62 L412.34,220.30 L412.69,219.39 L413.05,218.95 L413.40,218.94 L413.75,219.24 L414.11,219.80 L414.46,220.61 L414.82,221.65 L415.17,222.89 L415.52,224.30 L415.88,225.84 L416.23,227.46 L416.59,229.14 L416.94,230.84 L417.29,232.52 L417.65,234.16 L418.00,235.72 L418.36,237.20 L418.71,238.56 L419.06,239.82 L419.42,240.94 L419.77,241.95 L420.13,242.83 L420.48,243.60 L420.83,244.26 L421.19,244.81 L421.54,245.28 L421.90,245.66 L422.25,245.98 L422.60,246.23 L422.96,246.44 L423.31,246.60 L423.67,246.72 L424.02,246.82 L424.37,246.89 L424.73,246.95 L425.08,246.99 L425.44,247.02 L425.79,247.04 L426.14,247.06 L426.50,247.07 L426.85,247.08 L427.21,247.09 L427.56,247.09 L427.91,247.09 L428.27,247.10 L428.62,247.10 L428.98,247.10 L429.33,247.10 L429.68,247.10 L430.04,247.10 L430.39,247.10 L430.75,247.10 L431.10,247.10 L431.45,247.10 L431.81,247.10 L432.16,247.10 L432.52,247.10 L432.87,247.10 L433.22,247.10 L433.58,247.10 L433.93,247.10 L434.29,247.10 L434.64,247.10 L434.99,247.10 L435.35,247.10 L435.70,247.10 L436.06,247.10 L436.41,247.10 L436.76,247.10 L437.12,247.10 L437.47,247.10 L437.83,247.10 L438.18,247.10 L438.53,247.10 L438.89,247.10 L439.24,247.10 L439.60,247.10 L439.95,247.10 L440.30,247.10 L440.66,247.10 L441.01,247.10 L441.37,247.10 L441.72,247.10 L442.07,247.10 L442.43,247.10 L442.78,247.10 L443.14,247.10 L443.49,247.10 L443.84,247.10 L444.20,247.10 L444.55,247.10 L444.91,247.10 L445.26,247.10 L445.61,247.10 L445.97,247.10 L446.32,247.10 L446.68,247.10 L447.03,247.10 L447.38,247.10 L447.74,247.10 L448.09,247.10 L448.45,247.10 L448.80,247.10 L449.15,247.10 L449.51,247.10 L449.86,247.10 L450.22,247.10 L450.57,247.10 L450.92,247.10 L451.28,247.10 L451.63,247.10 L451.98,247.10 L452.34,247.10 L452.69,247.10 L453.05,247.10 L453.40,247.10 L453.75,247.10 L454.11,247.10 L454.46,247.10 L454.82,247.10 L455.17,247.10 L455.52,247.10 L455.88,247.10 L456.23,247.10 L456.59,247.10 L456.94,247.10 L457.29,247.10 L457.65,247.10 L458.00,247.10 L458.36,247.10 L458.71,247.10 L459.06,247.10 L459.42,247.10 L459.77,247.10 L460.13,247.10 L460.48,247.10 L460.83,247.09 L461.19,247.09 L461.54,247.09 L461.90,247.08 L462.25,247.08 L462.60,247.07 L462.96,247.06 L463.31,247.04 L463.67,247.03 L464.02,247.01 L464.37,247.00 L464.73,246.98 L465.08,246.96 L465.44,246.94 L465.79,246.93 L466.14,246.91 L466.50,246.90 L466.85,246.90 L467.21,246.90 L467.56,246.90 L467.91,246.91 L468.27,246.91 L468.62,246.92 L468.98,246.93 L469.33,246.94 L469.68,246.95 L470.04,246.96 L470.39,246.98 L470.75,246.99 L471.10,247.00 L471.45,247.01 L471.81,247.02 L472.16,247.03 L472.52,247.04 L472.87,247.05 L473.22,247.06 L473.58,247.07 L473.93,247.07 L474.29,247.08 L474.64,247.08 L474.99,247.09 L475.35,247.09 L475.70,247.09 L476.06,247.09 L476.41,247.10 L476.76,247.10 L477.12,247.10 L477.47,247.10 L477.83,247.10 L478.18,247.10 L478.53,247.10 L478.89,247.10 L479.24,247.10 L479.60,247.10 L479.95,247.10 L480.30,247.10 L480.66,247.10 L481.01,247.10 L481.37,247.10 L481.72,247.10 L482.07,247.10 L482.43,247.10 L482.78,247.10 L483.14,247.10 L483.49,247.10 L483.84,247.10 L484.20,247.10 L484.55,247.10 L484.91,247.10 L485.26,247.10 L485.61,247.10 L485.97,247.10 L486.32,247.10 L486.68,247.10 L487.03,247.10 L487.38,247.10 L487.74,247.10 L488.09,247.10 L488.45,247.10 L488.80,247.10" fill="none" stroke="#0a0a0a" stroke-width="2.45" stroke-linejoin="round" stroke-linecap="round"/>
<line x1="128.20" y1="355.50" x2="128.20" y2="523.00" stroke="#909090" stroke-width="1.15" stroke-dasharray="4.4 2.2"/>
<line x1="183.40" y1="357.00" x2="183.40" y2="523.00" stroke="#909090" stroke-width="1.15" stroke-dasharray="4.4 2.2"/>
<line x1="7.50" y1="523.00" x2="237.20" y2="523.00" stroke="#111" stroke-width="1.4" />
<line x1="8.00" y1="523.00" x2="8.00" y2="526.00" stroke="#111" stroke-width="1.3" />
<text x="10.60" y="538.24" font-size="11.0" font-weight="bold" text-anchor="middle" fill="#111"  stroke="#111" stroke-width="0.35">2.0</text>
<line x1="36.15" y1="523.00" x2="36.15" y2="526.00" stroke="#111" stroke-width="1.3" />
<text x="38.75" y="538.24" font-size="11.0" font-weight="bold" text-anchor="middle" fill="#111"  stroke="#111" stroke-width="0.35">3.0</text>
<line x1="64.30" y1="523.00" x2="64.30" y2="526.00" stroke="#111" stroke-width="1.3" />
<text x="66.90" y="538.24" font-size="11.0" font-weight="bold" text-anchor="middle" fill="#111"  stroke="#111" stroke-width="0.35">4.0</text>
<line x1="92.45" y1="523.00" x2="92.45" y2="526.00" stroke="#111" stroke-width="1.3" />
<text x="95.05" y="538.24" font-size="11.0" font-weight="bold" text-anchor="middle" fill="#111"  stroke="#111" stroke-width="0.35">5.0</text>
<line x1="120.60" y1="523.00" x2="120.60" y2="526.00" stroke="#111" stroke-width="1.3" />
<text x="123.20" y="538.24" font-size="11.0" font-weight="bold" text-anchor="middle" fill="#111"  stroke="#111" stroke-width="0.35">6.0</text>
<line x1="148.75" y1="523.00" x2="148.75" y2="526.00" stroke="#111" stroke-width="1.3" />
<text x="151.35" y="538.24" font-size="11.0" font-weight="bold" text-anchor="middle" fill="#111"  stroke="#111" stroke-width="0.35">7.0</text>
<line x1="176.90" y1="523.00" x2="176.90" y2="526.00" stroke="#111" stroke-width="1.3" />
<text x="179.50" y="538.24" font-size="11.0" font-weight="bold" text-anchor="middle" fill="#111"  stroke="#111" stroke-width="0.35">8.0</text>
<line x1="205.05" y1="523.00" x2="205.05" y2="526.00" stroke="#111" stroke-width="1.3" />
<text x="207.65" y="538.24" font-size="11.0" font-weight="bold" text-anchor="middle" fill="#111"  stroke="#111" stroke-width="0.35">9.0</text>
<line x1="233.20" y1="523.00" x2="233.20" y2="526.00" stroke="#111" stroke-width="1.3" />
<text x="235.20" y="538.24" font-size="11.0" font-weight="bold" text-anchor="middle" fill="#111"  stroke="#111" stroke-width="0.35">10</text>
<text x="123.70" y="554.08" font-size="11.4" font-weight="bold" text-anchor="middle" fill="#111" textLength="110.3" lengthAdjust="spacingAndGlyphs"  stroke="#111" stroke-width="0.35">Retention time (min)</text>
<text x="18.50" y="351.04" font-size="11" font-weight="bold" text-anchor="start" fill="#111" textLength="57.8" lengthAdjust="spacingAndGlyphs"  stroke="#111" stroke-width="0.35">λ = 243 nm</text>
<text x="128.20" y="353.09" font-size="10.6" font-weight="bold" text-anchor="middle" fill="#111"  stroke="#111" stroke-width="0.35">2</text>
<text x="183.40" y="353.09" font-size="10.6" font-weight="bold" text-anchor="middle" fill="#111"  stroke="#111" stroke-width="0.35">6</text>
<text x="17.40" y="421.14" font-size="11" font-weight="bold" text-anchor="start" fill="#111"  stroke="#111" stroke-width="0.35">6</text>
<text x="15.60" y="507.14" font-size="11" font-weight="bold" text-anchor="start" fill="#111" textLength="42" lengthAdjust="spacingAndGlyphs"  stroke="#111" stroke-width="0.35">LepI + 6</text>
<text x="225.80" y="420.54" font-size="11" font-weight="bold" text-anchor="middle" fill="#111"  stroke="#111" stroke-width="0.35">i</text>
<text x="225.60" y="506.64" font-size="11" font-weight="bold" text-anchor="middle" fill="#111"  stroke="#111" stroke-width="0.35">ii</text>
<path d="M8.80,431.35 L9.16,431.33 L9.51,431.30 L9.87,431.27 L10.22,431.24 L10.58,431.20 L10.93,431.15 L11.29,431.09 L11.64,431.04 L12.00,430.98 L12.36,430.92 L12.71,430.86 L13.07,430.81 L13.42,430.76 L13.78,430.73 L14.13,430.71 L14.49,430.70 L14.84,430.71 L15.20,430.73 L15.56,430.76 L15.91,430.80 L16.27,430.85 L16.62,430.91 L16.98,430.97 L17.33,431.03 L17.69,431.09 L18.04,431.14 L18.40,431.19 L18.76,431.24 L19.11,431.27 L19.47,431.30 L19.82,431.33 L20.18,431.35 L20.53,431.36 L20.89,431.37 L21.24,431.38 L21.60,431.39 L21.96,431.39 L22.31,431.39 L22.67,431.40 L23.02,431.40 L23.38,431.40 L23.73,431.40 L24.09,431.40 L24.44,431.40 L24.80,431.40 L25.16,431.40 L25.51,431.40 L25.87,431.40 L26.22,431.40 L26.58,431.40 L26.93,431.40 L27.29,431.40 L27.64,431.40 L28.00,431.40 L28.36,431.40 L28.71,431.40 L29.07,431.40 L29.42,431.40 L29.78,431.40 L30.13,431.40 L30.49,431.40 L30.84,431.40 L31.20,431.40 L31.56,431.40 L31.91,431.40 L32.27,431.40 L32.62,431.40 L32.98,431.40 L33.33,431.40 L33.69,431.40 L34.04,431.40 L34.40,431.40 L34.76,431.40 L35.11,431.40 L35.47,431.40 L35.82,431.40 L36.18,431.40 L36.53,431.40 L36.89,431.40 L37.24,431.40 L37.60,431.40 L37.96,431.40 L38.31,431.40 L38.67,431.40 L39.02,431.40 L39.38,431.40 L39.73,431.40 L40.09,431.40 L40.44,431.40 L40.80,431.40 L41.16,431.40 L41.51,431.40 L41.87,431.40 L42.22,431.40 L42.58,431.40 L42.93,431.40 L43.29,431.40 L43.64,431.40 L44.00,431.40 L44.36,431.40 L44.71,431.40 L45.07,431.40 L45.42,431.40 L45.78,431.40 L46.13,431.40 L46.49,431.40 L46.84,431.40 L47.20,431.40 L47.56,431.40 L47.91,431.40 L48.27,431.40 L48.62,431.40 L48.98,431.40 L49.33,431.40 L49.69,431.40 L50.04,431.40 L50.40,431.40 L50.76,431.40 L51.11,431.40 L51.47,431.40 L51.82,431.40 L52.18,431.40 L52.53,431.40 L52.89,431.40 L53.24,431.39 L53.60,431.39 L53.96,431.39 L54.31,431.38 L54.67,431.36 L55.02,431.34 L55.38,431.30 L55.73,431.26 L56.09,431.19 L56.44,431.11 L56.80,431.00 L57.16,430.86 L57.51,430.69 L57.87,430.49 L58.22,430.27 L58.58,430.04 L58.93,429.79 L59.29,429.55 L59.64,429.33 L60.00,429.15 L60.36,429.00 L60.71,428.92 L61.07,428.90 L61.42,428.93 L61.78,428.99 L62.13,429.09 L62.49,429.22 L62.84,429.37 L63.20,429.54 L63.56,429.72 L63.91,429.91 L64.27,430.10 L64.62,430.28 L64.98,430.45 L65.33,430.61 L65.69,430.75 L66.04,430.87 L66.40,430.98 L66.76,431.07 L67.11,431.15 L67.47,431.21 L67.82,431.25 L68.18,431.29 L68.53,431.32 L68.89,431.34 L69.24,431.36 L69.60,431.37 L69.96,431.38 L70.31,431.39 L70.67,431.39 L71.02,431.39 L71.38,431.40 L71.73,431.40 L72.09,431.40 L72.44,431.40 L72.80,431.40 L73.16,431.40 L73.51,431.40 L73.87,431.40 L74.22,431.40 L74.58,431.40 L74.93,431.40 L75.29,431.40 L75.64,431.40 L76.00,431.40 L76.36,431.40 L76.71,431.40 L77.07,431.40 L77.42,431.40 L77.78,431.40 L78.13,431.40 L78.49,431.40 L78.84,431.40 L79.20,431.40 L79.56,431.40 L79.91,431.40 L80.27,431.40 L80.62,431.40 L80.98,431.40 L81.33,431.40 L81.69,431.40 L82.04,431.40 L82.40,431.40 L82.76,431.40 L83.11,431.40 L83.47,431.40 L83.82,431.40 L84.18,431.40 L84.53,431.40 L84.89,431.40 L85.24,431.40 L85.60,431.40 L85.96,431.40 L86.31,431.40 L86.67,431.40 L87.02,431.40 L87.38,431.40 L87.73,431.40 L88.09,431.40 L88.44,431.40 L88.80,431.40 L89.16,431.40 L89.51,431.40 L89.87,431.40 L90.22,431.40 L90.58,431.40 L90.93,431.40 L91.29,431.40 L91.64,431.40 L92.00,431.40 L92.36,431.40 L92.71,431.40 L93.07,431.40 L93.42,431.40 L93.78,431.40 L94.13,431.40 L94.49,431.40 L94.84,431.40 L95.20,431.40 L95.56,431.40 L95.91,431.40 L96.27,431.40 L96.62,431.40 L96.98,431.40 L97.33,431.40 L97.69,431.40 L98.04,431.40 L98.40,431.40 L98.76,431.40 L99.11,431.40 L99.47,431.40 L99.82,431.40 L100.18,431.40 L100.53,431.40 L100.89,431.40 L101.24,431.40 L101.60,431.40 L101.96,431.40 L102.31,431.40 L102.67,431.40 L103.02,431.40 L103.38,431.40 L103.73,431.40 L104.09,431.40 L104.44,431.40 L104.80,431.40 L105.16,431.40 L105.51,431.40 L105.87,431.40 L106.22,431.40 L106.58,431.40 L106.93,431.40 L107.29,431.40 L107.64,431.40 L108.00,431.40 L108.36,431.40 L108.71,431.40 L109.07,431.40 L109.42,431.40 L109.78,431.40 L110.13,431.40 L110.49,431.40 L110.84,431.40 L111.20,431.40 L111.56,431.40 L111.91,431.40 L112.27,431.40 L112.62,431.40 L112.98,431.40 L113.33,431.40 L113.69,431.40 L114.04,431.40 L114.40,431.40 L114.76,431.40 L115.11,431.40 L115.47,431.40 L115.82,431.40 L116.18,431.40 L116.53,431.40 L116.89,431.40 L117.24,431.40 L117.60,431.40 L117.96,431.40 L118.31,431.40 L118.67,431.40 L119.02,431.40 L119.38,431.39 L119.73,431.39 L120.09,431.39 L120.44,431.38 L120.80,431.37 L121.16,431.36 L121.51,431.34 L121.87,431.32 L122.22,431.29 L122.58,431.25 L122.93,431.19 L123.29,431.13 L123.64,431.06 L124.00,430.97 L124.36,430.86 L124.71,430.75 L125.07,430.63 L125.42,430.50 L125.78,430.36 L126.13,430.23 L126.49,430.11 L126.84,430.00 L127.20,429.91 L127.56,429.85 L127.91,429.81 L128.27,429.80 L128.62,429.81 L128.98,429.83 L129.33,429.87 L129.69,429.91 L130.04,429.97 L130.40,430.04 L130.76,430.11 L131.11,430.19 L131.47,430.27 L131.82,430.36 L132.18,430.45 L132.53,430.54 L132.89,430.62 L133.24,430.71 L133.60,430.79 L133.96,430.86 L134.31,430.93 L134.67,431.00 L135.02,431.05 L135.38,431.11 L135.73,431.15 L136.09,431.19 L136.44,431.23 L136.80,431.26 L137.16,431.29 L137.51,431.31 L137.87,431.33 L138.22,431.34 L138.58,431.35 L138.93,431.36 L139.29,431.37 L139.64,431.38 L140.00,431.38 L140.36,431.39 L140.71,431.39 L141.07,431.39 L141.42,431.39 L141.78,431.40 L142.13,431.40 L142.49,431.40 L142.84,431.40 L143.20,431.40 L143.56,431.40 L143.91,431.40 L144.27,431.40 L144.62,431.40 L144.98,431.40 L145.33,431.40 L145.69,431.40 L146.04,431.40 L146.40,431.40 L146.76,431.40 L147.11,431.40 L147.47,431.40 L147.82,431.40 L148.18,431.40 L148.53,431.40 L148.89,431.40 L149.24,431.40 L149.60,431.40 L149.96,431.40 L150.31,431.40 L150.67,431.40 L151.02,431.40 L151.38,431.40 L151.73,431.40 L152.09,431.40 L152.44,431.40 L152.80,431.40 L153.16,431.40 L153.51,431.40 L153.87,431.40 L154.22,431.40 L154.58,431.40 L154.93,431.40 L155.29,431.40 L155.64,431.40 L156.00,431.40 L156.36,431.40 L156.71,431.40 L157.07,431.40 L157.42,431.40 L157.78,431.40 L158.13,431.40 L158.49,431.40 L158.84,431.40 L159.20,431.40 L159.56,431.40 L159.91,431.40 L160.27,431.40 L160.62,431.40 L160.98,431.40 L161.33,431.40 L161.69,431.40 L162.04,431.40 L162.40,431.40 L162.76,431.40 L163.11,431.40 L163.47,431.40 L163.82,431.40 L164.18,431.40 L164.53,431.40 L164.89,431.40 L165.24,431.40 L165.60,431.40 L165.96,431.40 L166.31,431.40 L166.67,431.40 L167.02,431.40 L167.38,431.40 L167.73,431.40 L168.09,431.40 L168.44,431.40 L168.80,431.39 L169.16,431.39 L169.51,431.38 L169.87,431.37 L170.22,431.36 L170.58,431.34 L170.93,431.31 L171.29,431.27 L171.64,431.21 L172.00,431.13 L172.36,431.02 L172.71,430.88 L173.07,430.68 L173.42,430.42 L173.78,430.07 L174.13,429.63 L174.49,429.07 L174.84,428.36 L175.20,427.48 L175.56,426.39 L175.91,425.08 L176.27,423.51 L176.62,421.66 L176.98,419.51 L177.33,417.03 L177.69,414.23 L178.04,411.11 L178.40,407.68 L178.76,403.98 L179.11,400.03 L179.47,395.91 L179.82,391.69 L180.18,387.45 L180.53,383.28 L180.89,379.30 L181.24,375.59 L181.60,372.27 L181.96,369.44 L182.31,367.17 L182.67,365.55 L183.02,364.62 L183.38,364.41 L183.73,364.78 L184.09,365.64 L184.44,366.98 L184.80,368.78 L185.16,370.98 L185.51,373.55 L185.87,376.43 L186.22,379.56 L186.58,382.88 L186.93,386.33 L187.29,389.86 L187.64,393.39 L188.00,396.89 L188.36,400.31 L188.71,403.59 L189.07,406.72 L189.42,409.67 L189.78,412.40 L190.13,414.92 L190.49,417.21 L190.84,419.28 L191.20,421.12 L191.56,422.75 L191.91,424.18 L192.27,425.41 L192.62,426.47 L192.98,427.38 L193.33,428.14 L193.69,428.78 L194.04,429.31 L194.40,429.74 L194.76,430.10 L195.11,430.39 L195.47,430.61 L195.82,430.80 L196.18,430.94 L196.53,431.05 L196.89,431.14 L197.24,431.21 L197.60,431.26 L197.96,431.29 L198.31,431.32 L198.67,431.34 L199.02,431.36 L199.38,431.37 L199.73,431.38 L200.09,431.33 L200.44,431.35 L200.80,431.38 L201.16,431.40 L201.51,431.42 L201.87,431.45 L202.22,431.47 L202.58,431.49 L202.93,431.51 L203.29,431.53 L203.64,431.54 L204.00,431.56 L204.36,431.58 L204.71,431.59 L205.07,431.60 L205.42,431.61 L205.78,431.62 L206.13,431.63 L206.49,431.63 L206.84,431.64 L207.20,431.64 L207.56,431.64 L207.91,431.64 L208.27,431.63 L208.62,431.63 L208.98,431.62 L209.33,431.61 L209.69,431.60 L210.04,431.59 L210.40,431.57 L210.76,431.56 L211.11,431.54 L211.47,431.52 L211.82,431.50 L212.18,431.49 L212.53,431.46 L212.89,431.44 L213.24,431.42 L213.60,431.40 L213.96,431.38 L214.31,431.36 L214.67,431.34 L215.02,431.32 L215.38,431.30 L215.73,431.28 L216.09,431.26 L216.44,431.24 L216.80,431.23 L217.16,431.21 L217.51,431.20 L217.87,431.19 L218.22,431.18 L218.58,431.17 L218.93,431.17 L219.29,431.16 L219.64,431.16 L220.00,431.16 L220.36,431.16 L220.71,431.16 L221.07,431.17 L221.42,431.18 L221.78,431.19 L222.13,431.20 L222.49,431.21 L222.84,431.22 L223.20,431.24 L223.56,431.25 L223.91,431.27 L224.27,431.29 L224.62,431.31 L224.98,431.33 L225.33,431.35 L225.69,431.37 L226.04,431.39 L226.40,431.41 L226.76,431.43 L227.11,431.45 L227.47,431.48 L227.82,431.49 L228.18,431.51 L228.53,431.53 L228.89,431.55 L229.24,431.57 L229.60,431.58 L229.96,431.59 L230.31,431.61 L230.67,431.62 L231.02,431.62 L231.38,431.63 L231.73,431.64 L232.09,431.64 L232.44,431.64 L232.80,431.64 L233.16,431.64 L233.51,431.63 L233.87,431.63 L234.22,431.62 L234.58,431.61 L234.93,431.60 L235.29,431.58 L235.64,431.57 L236.00,431.55" fill="none" stroke="#0a0a0a" stroke-width="2.45" stroke-linejoin="round" stroke-linecap="round"/>
<path d="M8.80,515.75 L9.16,515.73 L9.51,515.70 L9.87,515.67 L10.22,515.64 L10.58,515.60 L10.93,515.55 L11.29,515.49 L11.64,515.44 L12.00,515.38 L12.36,515.32 L12.71,515.26 L13.07,515.21 L13.42,515.16 L13.78,515.13 L14.13,515.11 L14.49,515.10 L14.84,515.11 L15.20,515.13 L15.56,515.16 L15.91,515.20 L16.27,515.25 L16.62,515.31 L16.98,515.37 L17.33,515.43 L17.69,515.49 L18.04,515.54 L18.40,515.59 L18.76,515.64 L19.11,515.67 L19.47,515.70 L19.82,515.73 L20.18,515.75 L20.53,515.76 L20.89,515.77 L21.24,515.78 L21.60,515.79 L21.96,515.79 L22.31,515.79 L22.67,515.80 L23.02,515.80 L23.38,515.80 L23.73,515.80 L24.09,515.80 L24.44,515.80 L24.80,515.80 L25.16,515.80 L25.51,515.80 L25.87,515.80 L26.22,515.80 L26.58,515.80 L26.93,515.80 L27.29,515.80 L27.64,515.80 L28.00,515.80 L28.36,515.80 L28.71,515.80 L29.07,515.80 L29.42,515.80 L29.78,515.80 L30.13,515.80 L30.49,515.80 L30.84,515.80 L31.20,515.80 L31.56,515.80 L31.91,515.80 L32.27,515.80 L32.62,515.80 L32.98,515.80 L33.33,515.80 L33.69,515.80 L34.04,515.80 L34.40,515.80 L34.76,515.80 L35.11,515.80 L35.47,515.80 L35.82,515.80 L36.18,515.80 L36.53,515.80 L36.89,515.80 L37.24,515.80 L37.60,515.80 L37.96,515.80 L38.31,515.80 L38.67,515.80 L39.02,515.80 L39.38,515.80 L39.73,515.80 L40.09,515.80 L40.44,515.80 L40.80,515.80 L41.16,515.80 L41.51,515.80 L41.87,515.80 L42.22,515.80 L42.58,515.80 L42.93,515.80 L43.29,515.80 L43.64,515.80 L44.00,515.80 L44.36,515.80 L44.71,515.80 L45.07,515.80 L45.42,515.80 L45.78,515.80 L46.13,515.80 L46.49,515.80 L46.84,515.80 L47.20,515.80 L47.56,515.80 L47.91,515.80 L48.27,515.80 L48.62,515.80 L48.98,515.80 L49.33,515.80 L49.69,515.80 L50.04,515.80 L50.40,515.80 L50.76,515.80 L51.11,515.80 L51.47,515.80 L51.82,515.80 L52.18,515.80 L52.53,515.80 L52.89,515.80 L53.24,515.79 L53.60,515.79 L53.96,515.79 L54.31,515.78 L54.67,515.76 L55.02,515.74 L55.38,515.70 L55.73,515.66 L56.09,515.59 L56.44,515.51 L56.80,515.40 L57.16,515.26 L57.51,515.09 L57.87,514.89 L58.22,514.67 L58.58,514.44 L58.93,514.19 L59.29,513.95 L59.64,513.73 L60.00,513.55 L60.36,513.40 L60.71,513.32 L61.07,513.30 L61.42,513.33 L61.78,513.39 L62.13,513.49 L62.49,513.62 L62.84,513.77 L63.20,513.94 L63.56,514.12 L63.91,514.31 L64.27,514.50 L64.62,514.68 L64.98,514.85 L65.33,515.01 L65.69,515.15 L66.04,515.27 L66.40,515.38 L66.76,515.47 L67.11,515.55 L67.47,515.61 L67.82,515.65 L68.18,515.69 L68.53,515.72 L68.89,515.74 L69.24,515.76 L69.60,515.77 L69.96,515.78 L70.31,515.79 L70.67,515.79 L71.02,515.79 L71.38,515.80 L71.73,515.80 L72.09,515.80 L72.44,515.80 L72.80,515.80 L73.16,515.80 L73.51,515.80 L73.87,515.80 L74.22,515.80 L74.58,515.80 L74.93,515.80 L75.29,515.80 L75.64,515.80 L76.00,515.80 L76.36,515.80 L76.71,515.80 L77.07,515.80 L77.42,515.80 L77.78,515.80 L78.13,515.80 L78.49,515.80 L78.84,515.80 L79.20,515.80 L79.56,515.80 L79.91,515.80 L80.27,515.80 L80.62,515.80 L80.98,515.80 L81.33,515.80 L81.69,515.80 L82.04,515.80 L82.40,515.80 L82.76,515.80 L83.11,515.80 L83.47,515.80 L83.82,515.80 L84.18,515.80 L84.53,515.80 L84.89,515.80 L85.24,515.80 L85.60,515.80 L85.96,515.80 L86.31,515.80 L86.67,515.80 L87.02,515.80 L87.38,515.80 L87.73,515.80 L88.09,515.80 L88.44,515.80 L88.80,515.80 L89.16,515.80 L89.51,515.80 L89.87,515.80 L90.22,515.80 L90.58,515.80 L90.93,515.80 L91.29,515.80 L91.64,515.80 L92.00,515.80 L92.36,515.80 L92.71,515.80 L93.07,515.80 L93.42,515.80 L93.78,515.80 L94.13,515.80 L94.49,515.80 L94.84,515.80 L95.20,515.80 L95.56,515.80 L95.91,515.80 L96.27,515.80 L96.62,515.80 L96.98,515.80 L97.33,515.80 L97.69,515.80 L98.04,515.80 L98.40,515.80 L98.76,515.80 L99.11,515.80 L99.47,515.80 L99.82,515.80 L100.18,515.80 L100.53,515.80 L100.89,515.80 L101.24,515.80 L101.60,515.80 L101.96,515.80 L102.31,515.80 L102.67,515.80 L103.02,515.80 L103.38,515.80 L103.73,515.80 L104.09,515.80 L104.44,515.80 L104.80,515.80 L105.16,515.80 L105.51,515.80 L105.87,515.80 L106.22,515.80 L106.58,515.80 L106.93,515.80 L107.29,515.80 L107.64,515.80 L108.00,515.80 L108.36,515.80 L108.71,515.80 L109.07,515.80 L109.42,515.80 L109.78,515.80 L110.13,515.80 L110.49,515.80 L110.84,515.80 L111.20,515.80 L111.56,515.80 L111.91,515.80 L112.27,515.80 L112.62,515.80 L112.98,515.80 L113.33,515.80 L113.69,515.80 L114.04,515.80 L114.40,515.80 L114.76,515.80 L115.11,515.80 L115.47,515.80 L115.82,515.79 L116.18,515.79 L116.53,515.78 L116.89,515.77 L117.24,515.75 L117.60,515.71 L117.96,515.67 L118.31,515.59 L118.67,515.49 L119.02,515.33 L119.38,515.12 L119.73,514.81 L120.09,514.39 L120.44,513.82 L120.80,513.07 L121.16,512.08 L121.51,510.82 L121.87,509.24 L122.22,507.28 L122.58,504.92 L122.93,502.11 L123.29,498.84 L123.64,495.12 L124.00,490.96 L124.36,486.44 L124.71,481.63 L125.07,476.64 L125.42,471.63 L125.78,466.73 L126.13,462.14 L126.49,458.02 L126.84,454.55 L127.20,451.87 L127.56,450.10 L127.91,449.33 L128.27,449.49 L128.62,450.31 L128.98,451.76 L129.33,453.80 L129.69,456.37 L130.04,459.40 L130.40,462.80 L130.76,466.49 L131.11,470.38 L131.47,474.38 L131.82,478.40 L132.18,482.37 L132.53,486.21 L132.89,489.87 L133.24,493.30 L133.60,496.47 L133.96,499.36 L134.31,501.95 L134.67,504.26 L135.02,506.27 L135.38,508.01 L135.73,509.50 L136.09,510.75 L136.44,511.79 L136.80,512.65 L137.16,513.35 L137.51,513.92 L137.87,514.36 L138.22,514.72 L138.58,514.99 L138.93,515.20 L139.29,515.36 L139.64,515.48 L140.00,515.57 L140.36,515.64 L140.71,515.69 L141.07,515.72 L141.42,515.74 L141.78,515.76 L142.13,515.77 L142.49,515.78 L142.84,515.79 L143.20,515.79 L143.56,515.80 L143.91,515.80 L144.27,515.80 L144.62,515.80 L144.98,515.80 L145.33,515.80 L145.69,515.80 L146.04,515.80 L146.40,515.80 L146.76,515.80 L147.11,515.80 L147.47,515.80 L147.82,515.80 L148.18,515.80 L148.53,515.80 L148.89,515.80 L149.24,515.80 L149.60,515.80 L149.96,515.80 L150.31,515.80 L150.67,515.80 L151.02,515.80 L151.38,515.80 L151.73,515.80 L152.09,515.80 L152.44,515.80 L152.80,515.80 L153.16,515.80 L153.51,515.80 L153.87,515.80 L154.22,515.80 L154.58,515.80 L154.93,515.80 L155.29,515.80 L155.64,515.80 L156.00,515.80 L156.36,515.80 L156.71,515.80 L157.07,515.80 L157.42,515.80 L157.78,515.80 L158.13,515.80 L158.49,515.80 L158.84,515.80 L159.20,515.80 L159.56,515.80 L159.91,515.80 L160.27,515.80 L160.62,515.80 L160.98,515.80 L161.33,515.80 L161.69,515.80 L162.04,515.80 L162.40,515.80 L162.76,515.80 L163.11,515.80 L163.47,515.80 L163.82,515.80 L164.18,515.80 L164.53,515.80 L164.89,515.80 L165.24,515.80 L165.60,515.80 L165.96,515.80 L166.31,515.80 L166.67,515.80 L167.02,515.80 L167.38,515.80 L167.73,515.80 L168.09,515.80 L168.44,515.80 L168.80,515.80 L169.16,515.80 L169.51,515.80 L169.87,515.80 L170.22,515.80 L170.58,515.80 L170.93,515.80 L171.29,515.80 L171.64,515.80 L172.00,515.80 L172.36,515.80 L172.71,515.80 L173.07,515.80 L173.42,515.79 L173.78,515.79 L174.13,515.79 L174.49,515.78 L174.84,515.77 L175.20,515.76 L175.56,515.74 L175.91,515.72 L176.27,515.70 L176.62,515.67 L176.98,515.63 L177.33,515.58 L177.69,515.52 L178.04,515.45 L178.40,515.38 L178.76,515.29 L179.11,515.19 L179.47,515.08 L179.82,514.97 L180.18,514.85 L180.53,514.72 L180.89,514.60 L181.24,514.49 L181.60,514.38 L181.96,514.29 L182.31,514.21 L182.67,514.15 L183.02,514.11 L183.38,514.10 L183.73,514.10 L184.09,514.12 L184.44,514.15 L184.80,514.18 L185.16,514.22 L185.51,514.28 L185.87,514.34 L186.22,514.40 L186.58,514.48 L186.93,514.55 L187.29,514.63 L187.64,514.71 L188.00,514.79 L188.36,514.87 L188.71,514.95 L189.07,515.03 L189.42,515.11 L189.78,515.18 L190.13,515.25 L190.49,515.31 L190.84,515.37 L191.20,515.42 L191.56,515.47 L191.91,515.52 L192.27,515.56 L192.62,515.59 L192.98,515.62 L193.33,515.65 L193.69,515.68 L194.04,515.70 L194.40,515.71 L194.76,515.73 L195.11,515.74 L195.47,515.75 L195.82,515.76 L196.18,515.77 L196.53,515.78 L196.89,515.78 L197.24,515.79 L197.60,515.79 L197.96,515.79 L198.31,515.79 L198.67,515.79 L199.02,515.80 L199.38,515.80 L199.73,515.80 L200.09,515.74 L200.44,515.76 L200.80,515.78 L201.16,515.80 L201.51,515.83 L201.87,515.85 L202.22,515.87 L202.58,515.89 L202.93,515.91 L203.29,515.93 L203.64,515.94 L204.00,515.96 L204.36,515.98 L204.71,515.99 L205.07,516.00 L205.42,516.01 L205.78,516.02 L206.13,516.03 L206.49,516.03 L206.84,516.04 L207.20,516.04 L207.56,516.04 L207.91,516.04 L208.27,516.03 L208.62,516.03 L208.98,516.02 L209.33,516.01 L209.69,516.00 L210.04,515.99 L210.40,515.97 L210.76,515.96 L211.11,515.94 L211.47,515.92 L211.82,515.90 L212.18,515.89 L212.53,515.86 L212.89,515.84 L213.24,515.82 L213.60,515.80 L213.96,515.78 L214.31,515.76 L214.67,515.74 L215.02,515.72 L215.38,515.70 L215.73,515.68 L216.09,515.66 L216.44,515.64 L216.80,515.63 L217.16,515.61 L217.51,515.60 L217.87,515.59 L218.22,515.58 L218.58,515.57 L218.93,515.57 L219.29,515.56 L219.64,515.56 L220.00,515.56 L220.36,515.56 L220.71,515.56 L221.07,515.57 L221.42,515.58 L221.78,515.59 L222.13,515.60 L222.49,515.61 L222.84,515.62 L223.20,515.64 L223.56,515.65 L223.91,515.67 L224.27,515.69 L224.62,515.71 L224.98,515.73 L225.33,515.75 L225.69,515.77 L226.04,515.79 L226.40,515.81 L226.76,515.83 L227.11,515.85 L227.47,515.88 L227.82,515.89 L228.18,515.91 L228.53,515.93 L228.89,515.95 L229.24,515.97 L229.60,515.98 L229.96,515.99 L230.31,516.01 L230.67,516.02 L231.02,516.02 L231.38,516.03 L231.73,516.04 L232.09,516.04 L232.44,516.04 L232.80,516.04 L233.16,516.04 L233.51,516.03 L233.87,516.03 L234.22,516.02 L234.58,516.01 L234.93,516.00 L235.29,515.98 L235.64,515.97 L236.00,515.95" fill="none" stroke="#0a0a0a" stroke-width="2.45" stroke-linejoin="round" stroke-linecap="round"/>
<line x1="295.90" y1="328.40" x2="295.90" y2="523.00" stroke="#1a1a1a" stroke-width="1.0" />
<line x1="295.40" y1="522.50" x2="514.80" y2="522.50" stroke="#1a1a1a" stroke-width="1.0" />
<line x1="292.10" y1="522.50" x2="295.90" y2="522.50" stroke="#1a1a1a" stroke-width="1.1" />
<text x="288.90" y="526.32" font-size="11.5" font-weight="bold" text-anchor="end" fill="#111"  stroke="#111" stroke-width="0.35">0</text>
<line x1="292.10" y1="487.15" x2="295.90" y2="487.15" stroke="#1a1a1a" stroke-width="1.1" />
<text x="288.90" y="490.97" font-size="11.5" font-weight="bold" text-anchor="end" fill="#111"  stroke="#111" stroke-width="0.35">0.1</text>
<line x1="292.10" y1="451.80" x2="295.90" y2="451.80" stroke="#1a1a1a" stroke-width="1.1" />
<text x="288.90" y="455.62" font-size="11.5" font-weight="bold" text-anchor="end" fill="#111"  stroke="#111" stroke-width="0.35">0.2</text>
<line x1="292.10" y1="416.45" x2="295.90" y2="416.45" stroke="#1a1a1a" stroke-width="1.1" />
<text x="288.90" y="420.27" font-size="11.5" font-weight="bold" text-anchor="end" fill="#111"  stroke="#111" stroke-width="0.35">0.3</text>
<line x1="292.10" y1="381.10" x2="295.90" y2="381.10" stroke="#1a1a1a" stroke-width="1.1" />
<text x="288.90" y="384.92" font-size="11.5" font-weight="bold" text-anchor="end" fill="#111"  stroke="#111" stroke-width="0.35">0.4</text>
<line x1="292.10" y1="345.75" x2="295.90" y2="345.75" stroke="#1a1a1a" stroke-width="1.1" />
<text x="288.90" y="349.57" font-size="11.5" font-weight="bold" text-anchor="end" fill="#111"  stroke="#111" stroke-width="0.35">0.5</text>
<line x1="295.90" y1="522.50" x2="295.90" y2="526.10" stroke="#1a1a1a" stroke-width="1.1" />
<text x="295.90" y="538.68" font-size="11.4" font-weight="bold" text-anchor="middle" fill="#111"  stroke="#111" stroke-width="0.35">0</text>
<line x1="358.25" y1="522.50" x2="358.25" y2="526.10" stroke="#1a1a1a" stroke-width="1.1" />
<text x="358.25" y="538.68" font-size="11.4" font-weight="bold" text-anchor="middle" fill="#111"  stroke="#111" stroke-width="0.35">100</text>
<line x1="420.60" y1="522.50" x2="420.60" y2="526.10" stroke="#1a1a1a" stroke-width="1.1" />
<text x="420.60" y="538.68" font-size="11.4" font-weight="bold" text-anchor="middle" fill="#111"  stroke="#111" stroke-width="0.35">200</text>
<line x1="482.95" y1="522.50" x2="482.95" y2="526.10" stroke="#1a1a1a" stroke-width="1.1" />
<text x="482.95" y="538.68" font-size="11.4" font-weight="bold" text-anchor="middle" fill="#111"  stroke="#111" stroke-width="0.35">300</text>
<text x="405.80" y="551.31" font-size="11.2" font-weight="bold" text-anchor="middle" fill="#111" textLength="39.5" lengthAdjust="spacingAndGlyphs"  stroke="#111" stroke-width="0.35">[6] (μM)</text>
<text transform="translate(266.0,426.8) rotate(-90)" font-size="11.2" font-weight="bold" text-anchor="middle" fill="#111" stroke="#111" stroke-width="0.35">V (μM/sec)</text>
<path d="M295.90,522.50 L296.84,517.72 L297.78,513.18 L298.72,508.86 L299.66,504.74 L300.60,500.81 L301.54,497.06 L302.48,493.47 L303.42,490.04 L304.36,486.75 L305.30,483.60 L306.24,480.58 L307.18,477.67 L308.12,474.88 L309.06,472.19 L310.00,469.61 L310.94,467.12 L311.88,464.72 L312.82,462.40 L313.76,460.17 L314.70,458.01 L315.64,455.92 L316.58,453.90 L317.52,451.95 L318.46,450.06 L319.40,448.23 L320.34,446.46 L321.28,444.74 L322.22,443.08 L323.16,441.46 L324.10,439.89 L325.04,438.36 L325.98,436.88 L326.92,435.44 L327.86,434.04 L328.80,432.68 L329.74,431.35 L330.68,430.06 L331.62,428.81 L332.56,427.58 L333.50,426.39 L334.44,425.22 L335.38,424.09 L336.32,422.98 L337.26,421.90 L338.20,420.85 L339.14,419.82 L340.08,418.82 L341.02,417.84 L341.96,416.88 L342.90,415.94 L343.84,415.02 L344.78,414.13 L345.72,413.25 L346.66,412.39 L347.60,411.55 L348.54,410.73 L349.48,409.93 L350.42,409.14 L351.36,408.37 L352.30,407.61 L353.24,406.87 L354.18,406.15 L355.12,405.43 L356.06,404.74 L357.00,404.05 L357.94,403.38 L358.88,402.72 L359.82,402.08 L360.76,401.44 L361.70,400.82 L362.64,400.21 L363.58,399.61 L364.52,399.02 L365.46,398.44 L366.40,397.87 L367.34,397.32 L368.28,396.77 L369.22,396.23 L370.16,395.70 L371.10,395.18 L372.04,394.66 L372.98,394.16 L373.92,393.66 L374.86,393.18 L375.80,392.70 L376.74,392.22 L377.68,391.76 L378.62,391.30 L379.56,390.85 L380.50,390.41 L381.44,389.97 L382.38,389.54 L383.32,389.12 L384.26,388.70 L385.20,388.29 L386.14,387.89 L387.08,387.49 L388.02,387.10 L388.96,386.71 L389.89,386.33 L390.83,385.96 L391.77,385.59 L392.71,385.22 L393.65,384.86 L394.59,384.51 L395.53,384.16 L396.47,383.81 L397.41,383.47 L398.35,383.13 L399.29,382.80 L400.23,382.48 L401.17,382.15 L402.11,381.84 L403.05,381.52 L403.99,381.21 L404.93,380.91 L405.87,380.60 L406.81,380.31 L407.75,380.01 L408.69,379.72 L409.63,379.43 L410.57,379.15 L411.51,378.87 L412.45,378.59 L413.39,378.32 L414.33,378.05 L415.27,377.78 L416.21,377.52 L417.15,377.26 L418.09,377.00 L419.03,376.75 L419.97,376.50 L420.91,376.25 L421.85,376.00 L422.79,375.76 L423.73,375.52 L424.67,375.29 L425.61,375.05 L426.55,374.82 L427.49,374.59 L428.43,374.36 L429.37,374.14 L430.31,373.92 L431.25,373.70 L432.19,373.48 L433.13,373.27 L434.07,373.06 L435.01,372.85 L435.95,372.64 L436.89,372.43 L437.83,372.23 L438.77,372.03 L439.71,371.83 L440.65,371.63 L441.59,371.44 L442.53,371.25 L443.47,371.06 L444.41,370.87 L445.35,370.68 L446.29,370.49 L447.23,370.31 L448.17,370.13 L449.11,369.95 L450.05,369.77 L450.99,369.60 L451.93,369.42 L452.87,369.25 L453.81,369.08 L454.75,368.91 L455.69,368.74 L456.63,368.57 L457.57,368.41 L458.51,368.25 L459.45,368.09 L460.39,367.93 L461.33,367.77 L462.27,367.61 L463.21,367.45 L464.15,367.30 L465.09,367.15 L466.03,367.00 L466.97,366.85 L467.91,366.70 L468.85,366.55 L469.79,366.41 L470.73,366.26 L471.67,366.12 L472.61,365.98 L473.55,365.83 L474.49,365.69 L475.43,365.56 L476.37,365.42 L477.31,365.28 L478.25,365.15 L479.19,365.01 L480.13,364.88 L481.07,364.75 L482.01,364.62 L482.95,364.49" fill="none" stroke="#111" stroke-width="1.1"/>
<circle cx="296.52" cy="519.67" r="2.9" fill="#0a0a0a"/>
<circle cx="305.25" cy="496.69" r="2.9" fill="#0a0a0a"/>
<circle cx="314.60" cy="463.11" r="2.9" fill="#0a0a0a"/>
<line x1="333.50" y1="404.43" x2="333.50" y2="426.35" stroke="#222" stroke-width="1.0" />
<line x1="331.51" y1="404.43" x2="335.11" y2="404.43" stroke="#222" stroke-width="0.9" />
<line x1="331.51" y1="426.35" x2="335.11" y2="426.35" stroke="#222" stroke-width="0.9" />
<circle cx="333.31" cy="415.39" r="2.9" fill="#0a0a0a"/>
<line x1="389.50" y1="345.75" x2="389.50" y2="410.79" stroke="#222" stroke-width="1.0" />
<line x1="387.62" y1="345.75" x2="391.22" y2="345.75" stroke="#222" stroke-width="0.9" />
<line x1="387.62" y1="410.79" x2="391.22" y2="410.79" stroke="#222" stroke-width="0.9" />
<circle cx="389.42" cy="378.27" r="2.9" fill="#0a0a0a"/>
<line x1="483.50" y1="366.61" x2="483.50" y2="379.33" stroke="#222" stroke-width="1.0" />
<line x1="481.15" y1="366.61" x2="484.75" y2="366.61" stroke="#222" stroke-width="0.9" />
<line x1="481.15" y1="379.33" x2="484.75" y2="379.33" stroke="#222" stroke-width="0.9" />
<circle cx="482.95" cy="372.97" r="2.9" fill="#0a0a0a"/>
<text x="352.2" y="464.9" font-size="11.3" font-weight="bold" fill="#111" stroke="#111" stroke-width="0.3" textLength="83.2" lengthAdjust="spacingAndGlyphs">K<tspan font-size="7.8" dy="2.5">M</tspan><tspan dy="-2.5"> = 60 ± 12 μM</tspan></text>
<text x="352.2" y="478.2" font-size="11.3" font-weight="bold" fill="#111" stroke="#111" stroke-width="0.3" textLength="96.6" lengthAdjust="spacingAndGlyphs"><tspan font-style="italic">k</tspan><tspan font-size="7.8" dy="2.5" font-style="italic">cat</tspan><tspan dy="-2.5"> = 3.6 ± 0.30 s</tspan><tspan font-size="7.8" dy="-3.8">-1</tspan></text>
<text x="352.2" y="492.0" font-size="11.3" font-weight="bold" fill="#111" stroke="#111" stroke-width="0.3" textLength="132.8" lengthAdjust="spacingAndGlyphs"><tspan font-style="italic">k</tspan><tspan font-size="7.8" dy="2.5" font-style="italic">cat</tspan><tspan dy="-2.5"> / K</tspan><tspan font-size="7.8" dy="2.5">M</tspan><tspan dy="-2.5"> = 6.0 x 10</tspan><tspan font-size="7.8" dy="-3.8">4</tspan><tspan dy="3.8">   s</tspan><tspan font-size="7.8" dy="-3.8">-1</tspan><tspan dy="3.8">M</tspan><tspan font-size="7.8" dy="-3.8">-1</tspan></text>
<path d="M39.5,654.4 C33.5,640 25.6,618 27.8,601 C29.2,590 31,585.0 34.8,585.0 C41.5,585.0 51.5,594 58.4,603.0" fill="none" stroke="#f8891f" stroke-width="0.8"/>
<polygon points="60.00,604.20 56.01,601.03 58.09,601.15 58.90,599.23" fill="#f97d10"/>
<path d="M57.0,616.8 C61.5,619 61.5,625.5 57,626.2 C54,626.6 52,626.3 50.5,626.1" fill="none" stroke="#f8891f" stroke-width="0.8"/>
<polygon points="48.00,626.00 52.45,624.55 51.30,626.12 52.34,627.75" fill="#f97d10"/>
<path d="M46.5,640.4 C41,640.6 38.5,645.5 42.5,648.2 C45,649.8 47.5,650.0 49.2,650.3" fill="none" stroke="#f8891f" stroke-width="0.8"/>
<polygon points="51.80,650.90 47.16,651.55 48.57,650.21 47.83,648.42" fill="#f97d10"/>
<path d="M77.70,616.00 L94.20,606.30 L110.90,616.00 L110.90,635.60 L94.20,645.10 L77.70,635.60" fill="none" stroke="#111" stroke-width="1.5" stroke-linejoin="round" stroke-linecap="round"/>
<polygon points="93.95,645.10 91.65,663.30 96.75,663.30 94.45,645.10" fill="#111"/>
<polygon points="77.95,616.00 80.40,604.60 75.00,604.60 77.45,616.00" fill="#111"/>
<polygon points="77.45,635.60 75.00,647.40 80.40,647.40 77.95,635.60" fill="#111"/>
<text x="77.70" y="601.38" font-size="11.4" font-weight="normal" text-anchor="middle" fill="#111" stroke="#111" stroke-width="0.3">H</text>
<text x="77.60" y="658.88" font-size="11.4" font-weight="normal" text-anchor="middle" fill="#111" stroke="#111" stroke-width="0.3">H</text>
<line x1="42.14" y1="636.00" x2="42.76" y2="637.08" stroke="#111" stroke-width="1.45"/>
<line x1="39.21" y1="637.25" x2="40.19" y2="638.96" stroke="#111" stroke-width="1.45"/>
<line x1="36.28" y1="638.50" x2="37.62" y2="640.85" stroke="#111" stroke-width="1.45"/>
<line x1="33.35" y1="639.75" x2="35.05" y2="642.73" stroke="#111" stroke-width="1.45"/>
<line x1="30.42" y1="640.99" x2="32.48" y2="644.62" stroke="#111" stroke-width="1.45"/>
<line x1="27.49" y1="642.24" x2="29.91" y2="646.51" stroke="#111" stroke-width="1.45"/>
<line x1="59.27" y1="646.07" x2="60.11" y2="646.97" stroke="#111" stroke-width="1.45"/>
<line x1="56.83" y1="647.83" x2="58.18" y2="649.28" stroke="#111" stroke-width="1.45"/>
<line x1="54.40" y1="649.60" x2="56.25" y2="651.58" stroke="#111" stroke-width="1.45"/>
<line x1="51.97" y1="651.36" x2="54.31" y2="653.88" stroke="#111" stroke-width="1.45"/>
<line x1="49.53" y1="653.13" x2="52.38" y2="656.18" stroke="#111" stroke-width="1.45"/>
<line x1="47.10" y1="654.89" x2="50.45" y2="658.48" stroke="#111" stroke-width="1.45"/>
<line x1="47.90" y1="656.80" x2="34.90" y2="656.80" stroke="#111" stroke-width="1.5" stroke-linecap="round"/>
<line x1="46.40" y1="660.60" x2="34.90" y2="660.60" stroke="#111" stroke-width="1.5" stroke-linecap="round"/>
<text x="28.50" y="663.30" font-size="12" font-weight="normal" text-anchor="middle" fill="#111" stroke="#111" stroke-width="0.3">O</text>
<line x1="47.90" y1="657.50" x2="41.80" y2="677.60" stroke="#111" stroke-width="1.5" stroke-linecap="round"/>
<line x1="41.80" y1="677.60" x2="33.60" y2="685.00" stroke="#111" stroke-width="1.5" stroke-linecap="round"/>
<text x="25.00" y="692.79" font-size="11.7" font-weight="normal" text-anchor="middle" fill="#111" stroke="#111" stroke-width="0.3">Ph</text>
<line x1="41.80" y1="677.60" x2="47.20" y2="693.20" stroke="#111" stroke-width="1.5" stroke-linecap="round"/>
<line x1="45.70" y1="679.40" x2="49.50" y2="689.20" stroke="#111" stroke-width="1.5" stroke-linecap="round"/>
<polygon points="46.2,691.6 53.7,686.3 55.5,688.9 48.0,694.6 46.6,694.0" fill="#111"/>
<text x="65.30" y="686.69" font-size="11.7" font-weight="normal" text-anchor="middle" fill="#111" stroke="#111" stroke-width="0.3">NH</text>
<polygon points="60.75,645.35 62.93,666.34 66.67,665.66 61.25,645.25" fill="#111"/>
<line x1="64.80" y1="666.00" x2="63.20" y2="674.60" stroke="#111" stroke-width="3.0" stroke-linecap="butt"/>
<line x1="66.20" y1="663.80" x2="77.60" y2="669.20" stroke="#111" stroke-width="1.5" stroke-linecap="round"/>
<line x1="64.80" y1="666.80" x2="75.40" y2="672.40" stroke="#111" stroke-width="1.5" stroke-linecap="round"/>
<text x="82.30" y="677.20" font-size="12" font-weight="normal" text-anchor="middle" fill="#111" stroke="#111" stroke-width="0.3">O</text>
<text x="73.60" y="703.87" font-size="10.8" font-weight="bold" text-anchor="middle" fill="#111" stroke="#111" stroke-width="0.3">6</text>
<path d="M61.00,606.30 L77.70,616.00 L77.70,635.60 L61.00,645.30 L44.10,635.60 L44.10,616.00 Z" fill="none" stroke="#1414e0" stroke-width="3.5" stroke-linejoin="miter" stroke-linecap="round"/>
<line x1="49.00" y1="618.00" x2="60.00" y2="611.90" stroke="#1414e0" stroke-width="1.3" stroke-linecap="round"/>
<text x="64.50" y="604.52" font-size="10.4" font-weight="normal" text-anchor="middle" fill="#111" stroke="#111" stroke-width="0.3">3’</text>
<text x="37.40" y="619.92" font-size="10.4" font-weight="normal" text-anchor="middle" fill="#111" stroke="#111" stroke-width="0.3">2’</text>
<text x="36.80" y="636.52" font-size="10.4" font-weight="normal" text-anchor="middle" fill="#111" stroke="#111" stroke-width="0.3">1’</text>
<text x="59.60" y="641.72" font-size="10.4" font-weight="normal" text-anchor="middle" fill="#111" stroke="#111" stroke-width="0.3">1</text>
<text x="50.50" y="668.02" font-size="10.4" font-weight="normal" text-anchor="middle" fill="#111" stroke="#111" stroke-width="0.3">2</text>
<text x="28.00" y="671.92" font-size="10.4" font-weight="normal" text-anchor="middle" fill="#111" stroke="#111" stroke-width="0.3">3</text>
<path d="M189.50,596.60 L184.00,596.60 L184.00,692.10 L189.50,692.10" fill="none" stroke="#222" stroke-width="1.7" stroke-linejoin="miter" stroke-linecap="round"/>
<path d="M316.20,596.60 L322.00,596.60 L322.00,692.10 L316.20,692.10" fill="none" stroke="#222" stroke-width="1.7" stroke-linejoin="miter" stroke-linecap="round"/>
<text x="329.60" y="604.60" font-size="9.5" font-weight="bold" text-anchor="middle" fill="#111" stroke="#111" stroke-width="0.3">‡</text>
<line x1="220.60" y1="608.60" x2="232.50" y2="617.50" stroke="#111" stroke-width="1.5" stroke-linecap="round"/>
<path d="M262.60,621.00 L287.00,610.80 L305.00,616.60 L307.80,640.40 L286.20,654.80" fill="none" stroke="#111" stroke-width="1.5" stroke-linejoin="round" stroke-linecap="round"/>
<line x1="278.40" y1="607.00" x2="262.60" y2="621.00" stroke="#111" stroke-width="1.5" stroke-linecap="round"/>
<line x1="262.60" y1="621.00" x2="264.80" y2="651.20" stroke="#111" stroke-width="1.5" stroke-linecap="round"/>
<line x1="266.84" y1="652.17" x2="267.04" y2="650.95" stroke="#111" stroke-width="1.45"/>
<line x1="270.34" y1="653.13" x2="270.67" y2="651.19" stroke="#111" stroke-width="1.45"/>
<line x1="273.85" y1="654.09" x2="274.30" y2="651.43" stroke="#111" stroke-width="1.45"/>
<line x1="277.35" y1="655.06" x2="277.93" y2="651.66" stroke="#111" stroke-width="1.45"/>
<line x1="280.86" y1="656.02" x2="281.55" y2="651.90" stroke="#111" stroke-width="1.45"/>
<line x1="284.37" y1="656.98" x2="285.18" y2="652.14" stroke="#111" stroke-width="1.45"/>
<polygon points="285.96,654.86 288.97,674.58 293.43,673.42 286.44,654.74" fill="#111"/>
<polygon points="262.46,621.21 270.51,629.11 273.09,625.29 262.74,620.79" fill="#111"/>
<text x="279.20" y="634.91" font-size="11.2" font-weight="normal" text-anchor="middle" fill="#111" stroke="#111" stroke-width="0.3">H</text>
<polygon points="264.56,651.14 260.16,661.09 264.24,662.11 265.04,651.26" fill="#111"/>
<text x="260.00" y="673.21" font-size="11.2" font-weight="normal" text-anchor="middle" fill="#111" stroke="#111" stroke-width="0.3">H</text>
<line x1="223.00" y1="627.00" x2="236.50" y2="630.40" stroke="#111" stroke-width="1.5" stroke-linecap="round"/>
<line x1="240.20" y1="631.40" x2="243.20" y2="632.20" stroke="#111" stroke-width="1.5" stroke-linecap="round"/>
<line x1="220.00" y1="623.20" x2="223.00" y2="627.00" stroke="#111" stroke-width="1.5" stroke-linecap="round"/>
<line x1="223.00" y1="627.00" x2="206.50" y2="632.90" stroke="#111" stroke-width="1.5" stroke-linecap="round"/>
<line x1="222.85" y1="630.13" x2="209.92" y2="634.76" stroke="#111" stroke-width="1.5" stroke-linecap="round"/>
<line x1="206.50" y1="632.90" x2="206.50" y2="637.60" stroke="#111" stroke-width="1.5" stroke-linecap="round"/>
<text x="210.10" y="621.82" font-size="11.8" font-weight="normal" text-anchor="middle" fill="#111" stroke="#111" stroke-width="0.3">Ph</text>
<text x="199.90" y="648.62" font-size="11.8" font-weight="normal" text-anchor="middle" fill="#111" stroke="#111" stroke-width="0.3">HN</text>
<line x1="211.60" y1="646.40" x2="230.40" y2="651.00" stroke="#111" stroke-width="3.4" stroke-linecap="butt"/>
<line x1="230.40" y1="651.00" x2="242.00" y2="646.00" stroke="#111" stroke-width="3.4" stroke-linecap="round"/>
<line x1="242.00" y1="646.00" x2="264.80" y2="651.20" stroke="#111" stroke-width="3.4" stroke-linecap="butt"/>
<line x1="229.60" y1="651.40" x2="232.20" y2="658.60" stroke="#111" stroke-width="1.5" stroke-linecap="round"/>
<line x1="232.80" y1="650.60" x2="235.20" y2="657.60" stroke="#111" stroke-width="1.5" stroke-linecap="round"/>
<text x="233.90" y="669.48" font-size="11.4" font-weight="normal" text-anchor="middle" fill="#111" stroke="#111" stroke-width="0.3">O</text>
<path d="M232.50,617.50 L245.00,605.80 L278.40,607.00" fill="none" stroke="#f8891f" stroke-width="1.9" stroke-linejoin="miter" stroke-linecap="round"/>
<line x1="235.60" y1="617.80" x2="246.20" y2="609.40" stroke="#f8891f" stroke-width="1.4" stroke-linecap="butt" stroke-dasharray="3.2 2.2"/>
<line x1="247.20" y1="609.40" x2="273.80" y2="609.90" stroke="#f8891f" stroke-width="1.4" stroke-linecap="butt" stroke-dasharray="3.6 2.4"/>
<line x1="276.20" y1="609.60" x2="257.40" y2="621.40" stroke="#f8891f" stroke-width="1.4" stroke-linecap="butt" stroke-dasharray="3.2 2.2"/>
<path d="M232.8,618.6 C234.5,629 238,638 241.6,645.6" fill="none" stroke="#f8891f" stroke-width="1.4" stroke-dasharray="3.2 2.2"/>
<line x1="248.40" y1="626.80" x2="243.40" y2="631.80" stroke="#f8891f" stroke-width="1.2" stroke-linecap="round"/>
<line x1="250.60" y1="629.40" x2="245.80" y2="634.20" stroke="#f8891f" stroke-width="1.3" stroke-linecap="butt" stroke-dasharray="2.6 1.8"/>
<line x1="243.00" y1="633.00" x2="242.20" y2="645.00" stroke="#f8891f" stroke-width="1.4" stroke-linecap="butt" stroke-dasharray="3 2"/>
<line x1="245.80" y1="635.00" x2="245.00" y2="644.40" stroke="#f8891f" stroke-width="1.3" stroke-linecap="butt" stroke-dasharray="2.6 1.8"/>
<text x="253.40" y="627.72" font-size="11.8" font-weight="normal" text-anchor="middle" fill="#f7962a" stroke="#f7962a" stroke-width="0.3">O</text>
<text x="217.9" y="691.1" font-size="12.2" font-weight="bold" fill="#f7962a" stroke="#f7962a" stroke-width="0.3" textLength="70.4" lengthAdjust="spacingAndGlyphs">boat-like TS</text>
<path d="M473.80,636.00 L491.00,626.00 L508.00,636.00 L508.00,655.80 L491.00,665.60 L473.80,655.90" fill="none" stroke="#111" stroke-width="1.5" stroke-linejoin="round" stroke-linecap="round"/>
<polygon points="490.75,665.60 488.50,684.80 493.50,684.80 491.25,665.60" fill="#111"/>
<polygon points="474.05,636.00 476.40,623.60 471.20,623.60 473.55,636.00" fill="#111"/>
<polygon points="473.55,655.90 471.20,667.80 476.40,667.80 474.05,655.90" fill="#111"/>
<text x="473.60" y="620.92" font-size="10.4" font-weight="normal" text-anchor="middle" fill="#111" stroke="#111" stroke-width="0.3">H</text>
<text x="473.70" y="679.24" font-size="11" font-weight="normal" text-anchor="middle" fill="#111" stroke="#111" stroke-width="0.3">H</text>
<polygon points="457.25,626.50 459.00,607.78 454.60,607.82 456.75,626.50" fill="#111"/>
<line x1="456.60" y1="607.60" x2="440.20" y2="597.60" stroke="#111" stroke-width="1.5" stroke-linecap="round"/>
<line x1="452.71" y1="608.98" x2="438.70" y2="600.44" stroke="#111" stroke-width="1.5" stroke-linecap="round"/>
<line x1="440.20" y1="597.60" x2="440.20" y2="579.80" stroke="#111" stroke-width="1.5" stroke-linecap="round"/>
<line x1="457.00" y1="665.40" x2="457.00" y2="685.40" stroke="#111" stroke-width="1.5" stroke-linecap="round"/>
<line x1="457.00" y1="685.40" x2="446.40" y2="691.60" stroke="#111" stroke-width="1.5" stroke-linecap="round"/>
<line x1="435.40" y1="691.60" x2="423.50" y2="684.60" stroke="#111" stroke-width="1.5" stroke-linecap="round"/>
<line x1="423.50" y1="684.60" x2="423.50" y2="665.60" stroke="#111" stroke-width="1.5" stroke-linecap="round"/>
<line x1="426.70" y1="682.40" x2="426.70" y2="667.80" stroke="#111" stroke-width="1.5" stroke-linecap="round"/>
<line x1="423.50" y1="665.60" x2="440.20" y2="655.90" stroke="#111" stroke-width="1.5" stroke-linecap="round"/>
<line x1="423.50" y1="665.60" x2="412.80" y2="659.80" stroke="#111" stroke-width="1.5" stroke-linecap="round"/>
<text x="401.40" y="660.10" font-size="12" font-weight="normal" text-anchor="middle" fill="#111" stroke="#111" stroke-width="0.3">Ph</text>
<line x1="457.00" y1="685.40" x2="468.20" y2="691.40" stroke="#111" stroke-width="1.5" stroke-linecap="round"/>
<line x1="459.12" y1="683.13" x2="470.15" y2="689.04" stroke="#111" stroke-width="1.5" stroke-linecap="round"/>
<text x="473.60" y="698.28" font-size="11.4" font-weight="normal" text-anchor="middle" fill="#111" stroke="#111" stroke-width="0.3">O</text>
<text x="441.00" y="699.15" font-size="11.6" font-weight="normal" text-anchor="middle" fill="#111" stroke="#111" stroke-width="0.3">N</text>
<text x="441.00" y="709.45" font-size="11.6" font-weight="normal" text-anchor="middle" fill="#111" stroke="#111" stroke-width="0.3">H</text>
<text x="489.20" y="706.38" font-size="11.4" font-weight="bold" text-anchor="middle" fill="#111" stroke="#111" stroke-width="0.3">2</text>
<line x1="446.00" y1="632.70" x2="457.00" y2="626.50" stroke="#ee1c1c" stroke-width="3.4" stroke-linecap="butt"/>
<path d="M457.00,626.50 L473.80,636.00 L473.80,655.90 L457.00,665.40 L440.20,655.90" fill="none" stroke="#ee1c1c" stroke-width="3.4" stroke-linejoin="miter" stroke-linecap="round"/>
<line x1="440.20" y1="655.90" x2="440.20" y2="643.80" stroke="#ee1c1c" stroke-width="3.4" stroke-linecap="butt"/>
<line x1="440.84" y1="660.86" x2="453.64" y2="668.09" stroke="#ee1c1c" stroke-width="1.5" stroke-linecap="round"/>
<text x="440.40" y="640.82" font-size="11.8" font-weight="normal" text-anchor="middle" fill="#ee1c1c" stroke="#ee1c1c" stroke-width="0.6">O</text>
<line x1="122.00" y1="643.90" x2="162.50" y2="643.90" stroke="#f8891f" stroke-width="1.4" stroke-linecap="butt"/>
<polygon points="169.80,643.90 159.00,647.10 160.62,643.90 159.00,640.70" fill="#f97d10"/>
<line x1="332.90" y1="643.90" x2="373.50" y2="643.90" stroke="#f8891f" stroke-width="1.4" stroke-linecap="butt"/>
<polygon points="380.70,643.90 369.90,647.10 371.52,643.90 369.90,640.70" fill="#f97d10"/>
</svg>
</body></html>
